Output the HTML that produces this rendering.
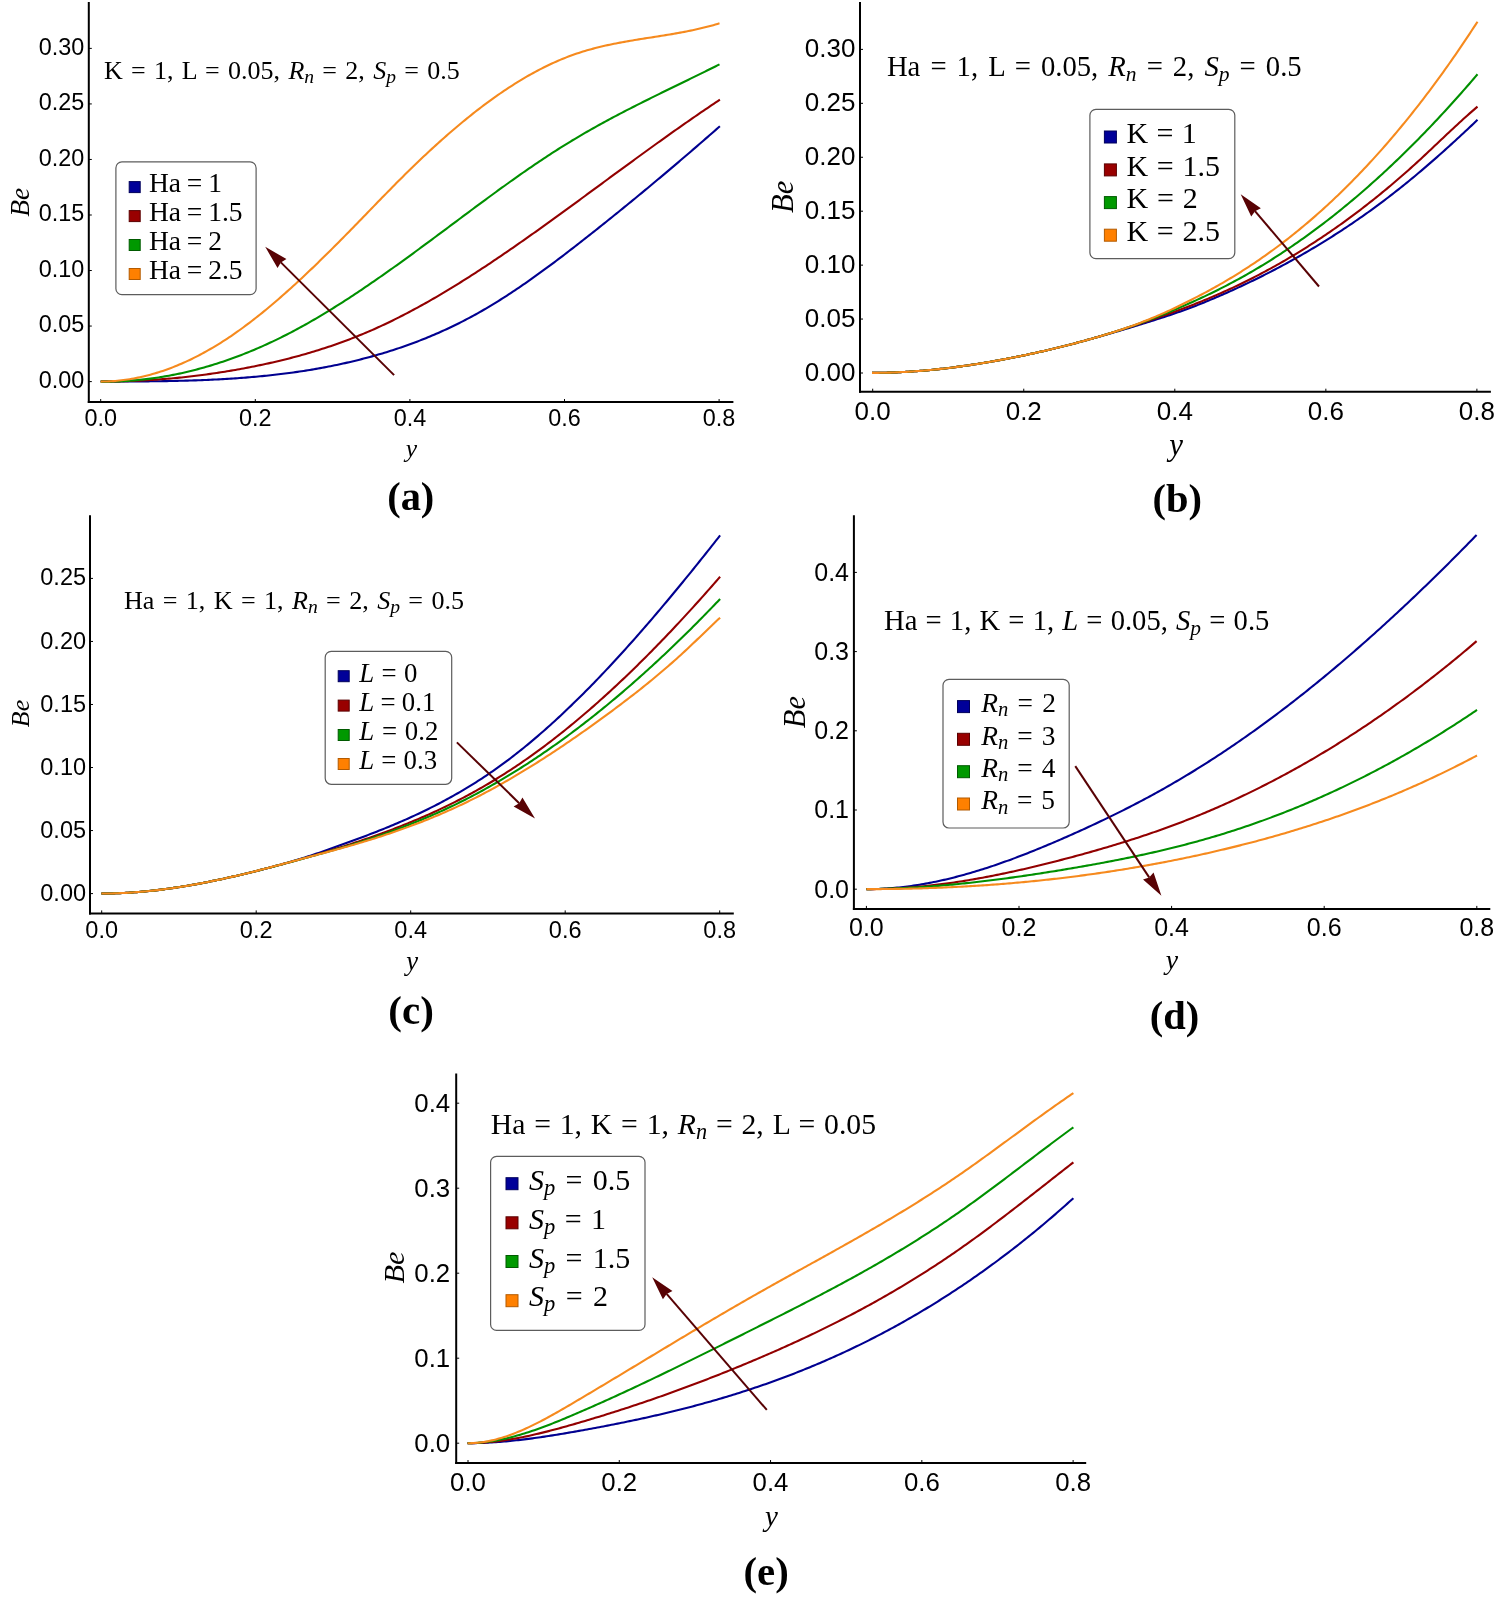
<!DOCTYPE html>
<html><head><meta charset="utf-8"><title>Bejan number profiles</title>
<style>html,body{margin:0;padding:0;background:#fff;overflow:hidden;}svg{display:block;will-change:transform;}</style>
</head><body>
<svg width="1499" height="1598" viewBox="0 0 1499 1598"><rect width="1499" height="1598" fill="#fff"/><g><path d="M100.70,381.55 L102.77,381.55 L104.84,381.54 L106.91,381.54 L108.98,381.53 L111.05,381.53 L113.13,381.52 L115.20,381.52 L117.27,381.51 L119.34,381.50 L121.41,381.50 L123.48,381.49 L125.55,381.48 L127.62,381.47 L129.69,381.46 L131.76,381.45 L133.83,381.44 L135.91,381.43 L137.98,381.41 L140.05,381.40 L142.12,381.38 L144.19,381.37 L146.26,381.35 L148.33,381.33 L150.40,381.31 L152.47,381.28 L154.54,381.26 L156.61,381.23 L158.69,381.21 L160.76,381.18 L162.83,381.14 L164.90,381.11 L166.97,381.08 L169.04,381.04 L171.11,381.00 L173.18,380.96 L175.25,380.91 L177.32,380.87 L179.39,380.82 L181.47,380.77 L183.54,380.71 L185.61,380.66 L187.68,380.60 L189.75,380.54 L191.82,380.47 L193.89,380.40 L195.96,380.33 L198.03,380.26 L200.10,380.18 L202.17,380.10 L204.25,380.02 L206.32,379.93 L208.39,379.85 L210.46,379.75 L212.53,379.66 L214.60,379.56 L216.67,379.45 L218.74,379.35 L220.81,379.23 L222.88,379.12 L224.95,379.00 L227.03,378.88 L229.10,378.75 L231.17,378.62 L233.24,378.48 L235.31,378.35 L237.38,378.20 L239.45,378.05 L241.52,377.90 L243.59,377.74 L245.66,377.58 L247.73,377.42 L249.81,377.25 L251.88,377.07 L253.95,376.89 L256.02,376.70 L258.09,376.51 L260.16,376.32 L262.23,376.12 L264.30,375.91 L266.37,375.70 L268.44,375.48 L270.51,375.26 L272.58,375.04 L274.66,374.80 L276.73,374.56 L278.80,374.32 L280.87,374.07 L282.94,373.81 L285.01,373.55 L287.08,373.29 L289.15,373.01 L291.22,372.73 L293.29,372.45 L295.36,372.16 L297.44,371.86 L299.51,371.55 L301.58,371.24 L303.65,370.92 L305.72,370.60 L307.79,370.27 L309.86,369.93 L311.93,369.59 L314.00,369.24 L316.07,368.88 L318.14,368.52 L320.22,368.14 L322.29,367.77 L324.36,367.38 L326.43,366.99 L328.50,366.59 L330.57,366.18 L332.64,365.76 L334.71,365.34 L336.78,364.91 L338.85,364.47 L340.92,364.03 L343.00,363.57 L345.07,363.11 L347.14,362.64 L349.21,362.16 L351.28,361.68 L353.35,361.19 L355.42,360.68 L357.49,360.17 L359.56,359.66 L361.63,359.13 L363.70,358.60 L365.78,358.05 L367.85,357.50 L369.92,356.94 L371.99,356.37 L374.06,355.79 L376.13,355.20 L378.20,354.61 L380.27,354.00 L382.34,353.39 L384.41,352.76 L386.48,352.13 L388.56,351.49 L390.63,350.83 L392.70,350.17 L394.77,349.50 L396.84,348.82 L398.91,348.12 L400.98,347.42 L403.05,346.71 L405.12,345.99 L407.19,345.25 L409.26,344.51 L411.34,343.75 L413.41,342.99 L415.48,342.21 L417.55,341.42 L419.62,340.62 L421.69,339.81 L423.76,338.99 L425.83,338.16 L427.90,337.32 L429.97,336.46 L432.04,335.59 L434.12,334.71 L436.19,333.82 L438.26,332.92 L440.33,332.00 L442.40,331.07 L444.47,330.13 L446.54,329.18 L448.61,328.21 L450.68,327.24 L452.75,326.25 L454.82,325.24 L456.90,324.23 L458.97,323.20 L461.04,322.15 L463.11,321.10 L465.18,320.03 L467.25,318.94 L469.32,317.85 L471.39,316.74 L473.46,315.61 L475.53,314.47 L477.60,313.32 L479.68,312.15 L481.75,310.97 L483.82,309.78 L485.89,308.57 L487.96,307.35 L490.03,306.11 L492.10,304.86 L494.17,303.60 L496.24,302.33 L498.31,301.04 L500.38,299.74 L502.46,298.43 L504.53,297.10 L506.60,295.77 L508.67,294.42 L510.74,293.06 L512.81,291.69 L514.88,290.31 L516.95,288.92 L519.02,287.52 L521.09,286.11 L523.16,284.69 L525.24,283.26 L527.31,281.81 L529.38,280.36 L531.45,278.90 L533.52,277.43 L535.59,275.96 L537.66,274.47 L539.73,272.97 L541.80,271.47 L543.87,269.96 L545.94,268.44 L548.02,266.92 L550.09,265.38 L552.16,263.84 L554.23,262.29 L556.30,260.74 L558.37,259.18 L560.44,257.61 L562.51,256.04 L564.58,254.46 L566.65,252.87 L568.72,251.28 L570.79,249.69 L572.87,248.09 L574.94,246.48 L577.01,244.88 L579.08,243.26 L581.15,241.64 L583.22,240.02 L585.29,238.40 L587.36,236.77 L589.43,235.13 L591.50,233.50 L593.57,231.86 L595.65,230.22 L597.72,228.57 L599.79,226.92 L601.86,225.27 L603.93,223.62 L606.00,221.96 L608.07,220.30 L610.14,218.64 L612.21,216.97 L614.28,215.30 L616.35,213.63 L618.43,211.96 L620.50,210.28 L622.57,208.60 L624.64,206.91 L626.71,205.23 L628.78,203.54 L630.85,201.84 L632.92,200.15 L634.99,198.45 L637.06,196.75 L639.13,195.04 L641.21,193.33 L643.28,191.62 L645.35,189.91 L647.42,188.19 L649.49,186.47 L651.56,184.75 L653.63,183.02 L655.70,181.29 L657.77,179.56 L659.84,177.83 L661.91,176.09 L663.99,174.35 L666.06,172.60 L668.13,170.86 L670.20,169.11 L672.27,167.35 L674.34,165.60 L676.41,163.84 L678.48,162.08 L680.55,160.31 L682.62,158.55 L684.69,156.78 L686.77,155.00 L688.84,153.23 L690.91,151.45 L692.98,149.66 L695.05,147.88 L697.12,146.09 L699.19,144.30 L701.26,142.51 L703.33,140.71 L705.40,138.91 L707.47,137.11 L709.55,135.30 L711.62,133.49 L713.69,131.68 L715.76,129.87 L717.83,128.05 L719.90,126.23" fill="none" stroke="#000090" stroke-width="2.1" stroke-linejoin="round" stroke-linecap="butt"/><path d="M100.70,381.56 L102.77,381.56 L104.84,381.56 L106.91,381.54 L108.98,381.53 L111.05,381.50 L113.13,381.47 L115.20,381.44 L117.27,381.40 L119.34,381.36 L121.41,381.31 L123.48,381.25 L125.55,381.19 L127.62,381.12 L129.69,381.05 L131.76,380.97 L133.83,380.89 L135.91,380.80 L137.98,380.70 L140.05,380.60 L142.12,380.50 L144.19,380.39 L146.26,380.27 L148.33,380.15 L150.40,380.02 L152.47,379.89 L154.54,379.75 L156.61,379.60 L158.69,379.45 L160.76,379.30 L162.83,379.14 L164.90,378.97 L166.97,378.80 L169.04,378.62 L171.11,378.43 L173.18,378.24 L175.25,378.05 L177.32,377.85 L179.39,377.64 L181.47,377.43 L183.54,377.21 L185.61,376.99 L187.68,376.76 L189.75,376.53 L191.82,376.28 L193.89,376.04 L195.96,375.79 L198.03,375.53 L200.10,375.27 L202.17,375.00 L204.25,374.72 L206.32,374.44 L208.39,374.16 L210.46,373.87 L212.53,373.57 L214.60,373.27 L216.67,372.96 L218.74,372.64 L220.81,372.32 L222.88,372.00 L224.95,371.67 L227.03,371.33 L229.10,370.98 L231.17,370.64 L233.24,370.28 L235.31,369.92 L237.38,369.55 L239.45,369.18 L241.52,368.80 L243.59,368.42 L245.66,368.03 L247.73,367.64 L249.81,367.23 L251.88,366.83 L253.95,366.42 L256.02,366.00 L258.09,365.57 L260.16,365.14 L262.23,364.70 L264.30,364.26 L266.37,363.81 L268.44,363.35 L270.51,362.89 L272.58,362.42 L274.66,361.94 L276.73,361.46 L278.80,360.97 L280.87,360.47 L282.94,359.96 L285.01,359.45 L287.08,358.93 L289.15,358.40 L291.22,357.87 L293.29,357.33 L295.36,356.78 L297.44,356.22 L299.51,355.65 L301.58,355.08 L303.65,354.49 L305.72,353.90 L307.79,353.30 L309.86,352.70 L311.93,352.08 L314.00,351.46 L316.07,350.82 L318.14,350.18 L320.22,349.53 L322.29,348.87 L324.36,348.20 L326.43,347.52 L328.50,346.83 L330.57,346.14 L332.64,345.43 L334.71,344.72 L336.78,343.99 L338.85,343.25 L340.92,342.51 L343.00,341.75 L345.07,340.99 L347.14,340.21 L349.21,339.43 L351.28,338.63 L353.35,337.83 L355.42,337.01 L357.49,336.18 L359.56,335.34 L361.63,334.50 L363.70,333.64 L365.78,332.77 L367.85,331.88 L369.92,330.99 L371.99,330.09 L374.06,329.17 L376.13,328.25 L378.20,327.31 L380.27,326.36 L382.34,325.40 L384.41,324.43 L386.48,323.45 L388.56,322.46 L390.63,321.46 L392.70,320.45 L394.77,319.43 L396.84,318.40 L398.91,317.36 L400.98,316.31 L403.05,315.25 L405.12,314.18 L407.19,313.10 L409.26,312.01 L411.34,310.91 L413.41,309.80 L415.48,308.68 L417.55,307.56 L419.62,306.42 L421.69,305.28 L423.76,304.13 L425.83,302.97 L427.90,301.80 L429.97,300.62 L432.04,299.43 L434.12,298.24 L436.19,297.04 L438.26,295.83 L440.33,294.61 L442.40,293.38 L444.47,292.15 L446.54,290.91 L448.61,289.66 L450.68,288.40 L452.75,287.14 L454.82,285.87 L456.90,284.59 L458.97,283.30 L461.04,282.01 L463.11,280.71 L465.18,279.41 L467.25,278.09 L469.32,276.78 L471.39,275.45 L473.46,274.12 L475.53,272.78 L477.60,271.44 L479.68,270.09 L481.75,268.74 L483.82,267.38 L485.89,266.01 L487.96,264.64 L490.03,263.26 L492.10,261.88 L494.17,260.49 L496.24,259.09 L498.31,257.70 L500.38,256.29 L502.46,254.88 L504.53,253.47 L506.60,252.05 L508.67,250.63 L510.74,249.20 L512.81,247.77 L514.88,246.34 L516.95,244.90 L519.02,243.45 L521.09,242.01 L523.16,240.56 L525.24,239.10 L527.31,237.64 L529.38,236.18 L531.45,234.71 L533.52,233.24 L535.59,231.77 L537.66,230.30 L539.73,228.82 L541.80,227.34 L543.87,225.85 L545.94,224.37 L548.02,222.88 L550.09,221.38 L552.16,219.89 L554.23,218.39 L556.30,216.89 L558.37,215.39 L560.44,213.89 L562.51,212.38 L564.58,210.88 L566.65,209.37 L568.72,207.86 L570.79,206.35 L572.87,204.83 L574.94,203.32 L577.01,201.80 L579.08,200.29 L581.15,198.77 L583.22,197.25 L585.29,195.73 L587.36,194.21 L589.43,192.69 L591.50,191.17 L593.57,189.65 L595.65,188.12 L597.72,186.60 L599.79,185.08 L601.86,183.56 L603.93,182.03 L606.00,180.51 L608.07,178.99 L610.14,177.47 L612.21,175.95 L614.28,174.43 L616.35,172.91 L618.43,171.39 L620.50,169.87 L622.57,168.35 L624.64,166.83 L626.71,165.32 L628.78,163.80 L630.85,162.29 L632.92,160.78 L634.99,159.27 L637.06,157.76 L639.13,156.25 L641.21,154.75 L643.28,153.24 L645.35,151.74 L647.42,150.24 L649.49,148.74 L651.56,147.25 L653.63,145.75 L655.70,144.26 L657.77,142.77 L659.84,141.29 L661.91,139.81 L663.99,138.32 L666.06,136.85 L668.13,135.37 L670.20,133.90 L672.27,132.43 L674.34,130.97 L676.41,129.50 L678.48,128.04 L680.55,126.59 L682.62,125.14 L684.69,123.69 L686.77,122.24 L688.84,120.80 L690.91,119.37 L692.98,117.93 L695.05,116.50 L697.12,115.08 L699.19,113.66 L701.26,112.24 L703.33,110.83 L705.40,109.43 L707.47,108.02 L709.55,106.63 L711.62,105.23 L713.69,103.85 L715.76,102.46 L717.83,101.09 L719.90,99.71" fill="none" stroke="#920000" stroke-width="2.1" stroke-linejoin="round" stroke-linecap="butt"/><path d="M100.70,381.63 L102.77,381.64 L104.84,381.65 L106.91,381.64 L108.98,381.62 L111.05,381.58 L113.12,381.54 L115.19,381.48 L117.26,381.41 L119.33,381.33 L121.40,381.23 L123.47,381.13 L125.53,381.01 L127.60,380.87 L129.67,380.73 L131.74,380.57 L133.81,380.40 L135.88,380.22 L137.95,380.03 L140.02,379.82 L142.09,379.61 L144.16,379.38 L146.23,379.13 L148.30,378.88 L150.37,378.61 L152.44,378.34 L154.51,378.04 L156.58,377.74 L158.65,377.43 L160.72,377.10 L162.79,376.76 L164.86,376.41 L166.93,376.04 L169.00,375.67 L171.07,375.28 L173.13,374.88 L175.20,374.47 L177.27,374.04 L179.34,373.61 L181.41,373.16 L183.48,372.70 L185.55,372.22 L187.62,371.74 L189.69,371.24 L191.76,370.73 L193.83,370.21 L195.90,369.68 L197.97,369.14 L200.04,368.58 L202.11,368.01 L204.18,367.43 L206.25,366.84 L208.32,366.23 L210.39,365.62 L212.46,364.99 L214.53,364.35 L216.60,363.69 L218.67,363.03 L220.73,362.35 L222.80,361.67 L224.87,360.97 L226.94,360.25 L229.01,359.53 L231.08,358.79 L233.15,358.05 L235.22,357.29 L237.29,356.51 L239.36,355.73 L241.43,354.94 L243.50,354.13 L245.57,353.31 L247.64,352.48 L249.71,351.64 L251.78,350.78 L253.85,349.92 L255.92,349.04 L257.99,348.15 L260.06,347.25 L262.13,346.34 L264.20,345.41 L266.27,344.48 L268.33,343.53 L270.40,342.57 L272.47,341.60 L274.54,340.61 L276.61,339.62 L278.68,338.61 L280.75,337.59 L282.82,336.56 L284.89,335.52 L286.96,334.47 L289.03,333.40 L291.10,332.32 L293.17,331.24 L295.24,330.14 L297.31,329.02 L299.38,327.90 L301.45,326.77 L303.52,325.63 L305.59,324.47 L307.66,323.31 L309.73,322.13 L311.80,320.94 L313.87,319.75 L315.93,318.54 L318.00,317.33 L320.07,316.10 L322.14,314.87 L324.21,313.62 L326.28,312.37 L328.35,311.10 L330.42,309.83 L332.49,308.55 L334.56,307.26 L336.63,305.97 L338.70,304.66 L340.77,303.35 L342.84,302.02 L344.91,300.69 L346.98,299.35 L349.05,298.01 L351.12,296.66 L353.19,295.29 L355.26,293.93 L357.33,292.55 L359.40,291.17 L361.47,289.78 L363.53,288.39 L365.60,286.98 L367.67,285.58 L369.74,284.16 L371.81,282.74 L373.88,281.31 L375.95,279.88 L378.02,278.44 L380.09,277.00 L382.16,275.55 L384.23,274.10 L386.30,272.64 L388.37,271.18 L390.44,269.71 L392.51,268.24 L394.58,266.76 L396.65,265.28 L398.72,263.79 L400.79,262.30 L402.86,260.81 L404.93,259.31 L407.00,257.81 L409.07,256.30 L411.13,254.79 L413.20,253.28 L415.27,251.77 L417.34,250.25 L419.41,248.73 L421.48,247.21 L423.55,245.68 L425.62,244.16 L427.69,242.63 L429.76,241.10 L431.83,239.56 L433.90,238.03 L435.97,236.49 L438.04,234.95 L440.11,233.42 L442.18,231.87 L444.25,230.33 L446.32,228.79 L448.39,227.25 L450.46,225.71 L452.53,224.16 L454.60,222.62 L456.67,221.07 L458.73,219.53 L460.80,217.99 L462.87,216.44 L464.94,214.90 L467.01,213.36 L469.08,211.82 L471.15,210.28 L473.22,208.74 L475.29,207.21 L477.36,205.67 L479.43,204.14 L481.50,202.61 L483.57,201.08 L485.64,199.56 L487.71,198.03 L489.78,196.52 L491.85,195.00 L493.92,193.49 L495.99,191.98 L498.06,190.47 L500.13,188.97 L502.20,187.47 L504.27,185.98 L506.33,184.49 L508.40,183.00 L510.47,181.52 L512.54,180.05 L514.61,178.58 L516.68,177.12 L518.75,175.66 L520.82,174.20 L522.89,172.76 L524.96,171.32 L527.03,169.88 L529.10,168.45 L531.17,167.03 L533.24,165.62 L535.31,164.21 L537.38,162.81 L539.45,161.41 L541.52,160.03 L543.59,158.65 L545.66,157.28 L547.73,155.92 L549.80,154.56 L551.87,153.22 L553.93,151.88 L556.00,150.56 L558.07,149.24 L560.14,147.93 L562.21,146.63 L564.28,145.34 L566.35,144.06 L568.42,142.79 L570.49,141.53 L572.56,140.27 L574.63,139.03 L576.70,137.80 L578.77,136.57 L580.84,135.36 L582.91,134.15 L584.98,132.95 L587.05,131.76 L589.12,130.58 L591.19,129.40 L593.26,128.23 L595.33,127.07 L597.40,125.92 L599.47,124.77 L601.53,123.64 L603.60,122.50 L605.67,121.38 L607.74,120.26 L609.81,119.15 L611.88,118.04 L613.95,116.94 L616.02,115.84 L618.09,114.75 L620.16,113.67 L622.23,112.59 L624.30,111.51 L626.37,110.44 L628.44,109.38 L630.51,108.32 L632.58,107.26 L634.65,106.21 L636.72,105.16 L638.79,104.11 L640.86,103.07 L642.93,102.03 L645.00,101.00 L647.07,99.97 L649.13,98.94 L651.20,97.91 L653.27,96.89 L655.34,95.87 L657.41,94.85 L659.48,93.83 L661.55,92.81 L663.62,91.80 L665.69,90.79 L667.76,89.78 L669.83,88.77 L671.90,87.76 L673.97,86.75 L676.04,85.74 L678.11,84.73 L680.18,83.72 L682.25,82.71 L684.32,81.71 L686.39,80.70 L688.46,79.69 L690.53,78.68 L692.60,77.67 L694.67,76.66 L696.73,75.64 L698.80,74.63 L700.87,73.61 L702.94,72.60 L705.01,71.58 L707.08,70.55 L709.15,69.53 L711.22,68.50 L713.29,67.47 L715.36,66.44 L717.43,65.41 L719.50,64.37" fill="none" stroke="#009000" stroke-width="2.1" stroke-linejoin="round" stroke-linecap="butt"/><path d="M100.70,381.59 L102.77,381.57 L104.84,381.52 L106.91,381.46 L108.98,381.37 L111.05,381.25 L113.12,381.12 L115.19,380.96 L117.26,380.77 L119.33,380.56 L121.40,380.33 L123.47,380.08 L125.53,379.80 L127.60,379.50 L129.67,379.17 L131.74,378.83 L133.81,378.46 L135.88,378.06 L137.95,377.65 L140.02,377.21 L142.09,376.74 L144.16,376.26 L146.23,375.75 L148.30,375.22 L150.37,374.67 L152.44,374.09 L154.51,373.50 L156.58,372.88 L158.65,372.23 L160.72,371.57 L162.79,370.88 L164.86,370.17 L166.93,369.44 L169.00,368.68 L171.07,367.91 L173.13,367.11 L175.20,366.29 L177.27,365.45 L179.34,364.58 L181.41,363.70 L183.48,362.79 L185.55,361.86 L187.62,360.91 L189.69,359.93 L191.76,358.94 L193.83,357.92 L195.90,356.89 L197.97,355.83 L200.04,354.75 L202.11,353.65 L204.18,352.52 L206.25,351.38 L208.32,350.21 L210.39,349.03 L212.46,347.82 L214.53,346.59 L216.60,345.34 L218.67,344.07 L220.73,342.78 L222.80,341.47 L224.87,340.14 L226.94,338.78 L229.01,337.41 L231.08,336.02 L233.15,334.60 L235.22,333.17 L237.29,331.71 L239.36,330.24 L241.43,328.75 L243.50,327.24 L245.57,325.71 L247.64,324.16 L249.71,322.60 L251.78,321.01 L253.85,319.41 L255.92,317.79 L257.99,316.16 L260.06,314.51 L262.13,312.84 L264.20,311.16 L266.27,309.46 L268.33,307.74 L270.40,306.01 L272.47,304.27 L274.54,302.51 L276.61,300.73 L278.68,298.94 L280.75,297.14 L282.82,295.33 L284.89,293.50 L286.96,291.65 L289.03,289.80 L291.10,287.93 L293.17,286.05 L295.24,284.16 L297.31,282.26 L299.38,280.34 L301.45,278.41 L303.52,276.48 L305.59,274.53 L307.66,272.57 L309.73,270.60 L311.80,268.63 L313.87,266.64 L315.93,264.64 L318.00,262.64 L320.07,260.62 L322.14,258.60 L324.21,256.57 L326.28,254.53 L328.35,252.48 L330.42,250.43 L332.49,248.37 L334.56,246.30 L336.63,244.22 L338.70,242.14 L340.77,240.06 L342.84,237.97 L344.91,235.87 L346.98,233.76 L349.05,231.66 L351.12,229.54 L353.19,227.43 L355.26,225.31 L357.33,223.18 L359.40,221.05 L361.47,218.92 L363.53,216.79 L365.60,214.66 L367.67,212.52 L369.74,210.39 L371.81,208.25 L373.88,206.12 L375.95,203.99 L378.02,201.85 L380.09,199.73 L382.16,197.60 L384.23,195.48 L386.30,193.36 L388.37,191.25 L390.44,189.14 L392.51,187.04 L394.58,184.95 L396.65,182.86 L398.72,180.78 L400.79,178.71 L402.86,176.65 L404.93,174.60 L407.00,172.56 L409.07,170.52 L411.13,168.50 L413.20,166.49 L415.27,164.49 L417.34,162.50 L419.41,160.52 L421.48,158.56 L423.55,156.60 L425.62,154.65 L427.69,152.72 L429.76,150.80 L431.83,148.89 L433.90,146.99 L435.97,145.11 L438.04,143.23 L440.11,141.37 L442.18,139.52 L444.25,137.69 L446.32,135.87 L448.39,134.06 L450.46,132.26 L452.53,130.48 L454.60,128.71 L456.67,126.95 L458.73,125.21 L460.80,123.48 L462.87,121.77 L464.94,120.07 L467.01,118.39 L469.08,116.72 L471.15,115.06 L473.22,113.42 L475.29,111.79 L477.36,110.18 L479.43,108.59 L481.50,107.01 L483.57,105.44 L485.64,103.89 L487.71,102.36 L489.78,100.84 L491.85,99.34 L493.92,97.86 L495.99,96.39 L498.06,94.94 L500.13,93.51 L502.20,92.09 L504.27,90.69 L506.33,89.31 L508.40,87.94 L510.47,86.59 L512.54,85.26 L514.61,83.95 L516.68,82.65 L518.75,81.38 L520.82,80.12 L522.89,78.88 L524.96,77.66 L527.03,76.46 L529.10,75.27 L531.17,74.11 L533.24,72.96 L535.31,71.84 L537.38,70.73 L539.45,69.64 L541.52,68.58 L543.59,67.53 L545.66,66.50 L547.73,65.49 L549.80,64.51 L551.87,63.54 L553.93,62.60 L556.00,61.67 L558.07,60.77 L560.14,59.88 L562.21,59.02 L564.28,58.18 L566.35,57.36 L568.42,56.57 L570.49,55.79 L572.56,55.04 L574.63,54.31 L576.70,53.60 L578.77,52.91 L580.84,52.24 L582.91,51.59 L584.98,50.96 L587.05,50.35 L589.12,49.76 L591.19,49.18 L593.26,48.62 L595.33,48.08 L597.40,47.55 L599.47,47.04 L601.53,46.54 L603.60,46.06 L605.67,45.59 L607.74,45.13 L609.81,44.69 L611.88,44.25 L613.95,43.83 L616.02,43.42 L618.09,43.01 L620.16,42.62 L622.23,42.23 L624.30,41.86 L626.37,41.49 L628.44,41.12 L630.51,40.77 L632.58,40.42 L634.65,40.07 L636.72,39.73 L638.79,39.40 L640.86,39.06 L642.93,38.73 L645.00,38.41 L647.07,38.08 L649.13,37.76 L651.20,37.43 L653.27,37.11 L655.34,36.78 L657.41,36.46 L659.48,36.13 L661.55,35.80 L663.62,35.47 L665.69,35.13 L667.76,34.79 L669.83,34.45 L671.90,34.10 L673.97,33.75 L676.04,33.38 L678.11,33.02 L680.18,32.64 L682.25,32.26 L684.32,31.86 L686.39,31.46 L688.46,31.05 L690.53,30.63 L692.60,30.20 L694.67,29.75 L696.73,29.30 L698.80,28.83 L700.87,28.34 L702.94,27.85 L705.01,27.34 L707.08,26.81 L709.15,26.27 L711.22,25.71 L713.29,25.14 L715.36,24.55 L717.43,23.94 L719.50,23.31" fill="none" stroke="#f68a1e" stroke-width="2.1" stroke-linejoin="round" stroke-linecap="butt"/><line x1="88.8" y1="2" x2="88.8" y2="403" stroke="#000" stroke-width="2"/><line x1="87.8" y1="402" x2="733.4" y2="402" stroke="#000" stroke-width="2"/><line x1="88.8" y1="381.60" x2="91.8" y2="381.60" stroke="#000" stroke-width="1"/><line x1="88.8" y1="326.06" x2="91.8" y2="326.06" stroke="#000" stroke-width="1"/><line x1="88.8" y1="270.53" x2="91.8" y2="270.53" stroke="#000" stroke-width="1"/><line x1="88.8" y1="215.00" x2="91.8" y2="215.00" stroke="#000" stroke-width="1"/><line x1="88.8" y1="159.46" x2="91.8" y2="159.46" stroke="#000" stroke-width="1"/><line x1="88.8" y1="103.93" x2="91.8" y2="103.93" stroke="#000" stroke-width="1"/><line x1="88.8" y1="48.39" x2="91.8" y2="48.39" stroke="#000" stroke-width="1"/><line x1="100.70" y1="402" x2="100.70" y2="399" stroke="#000" stroke-width="1"/><line x1="255.30" y1="402" x2="255.30" y2="399" stroke="#000" stroke-width="1"/><line x1="409.90" y1="402" x2="409.90" y2="399" stroke="#000" stroke-width="1"/><line x1="564.50" y1="402" x2="564.50" y2="399" stroke="#000" stroke-width="1"/><line x1="719.10" y1="402" x2="719.10" y2="399" stroke="#000" stroke-width="1"/><text x="84.34" y="388.02" font-family='"Liberation Sans", sans-serif' font-size="23.4" text-anchor="end">0.00</text><text x="84.34" y="332.49" font-family='"Liberation Sans", sans-serif' font-size="23.4" text-anchor="end">0.05</text><text x="84.34" y="276.95" font-family='"Liberation Sans", sans-serif' font-size="23.4" text-anchor="end">0.10</text><text x="84.34" y="221.42" font-family='"Liberation Sans", sans-serif' font-size="23.4" text-anchor="end">0.15</text><text x="84.34" y="165.88" font-family='"Liberation Sans", sans-serif' font-size="23.4" text-anchor="end">0.20</text><text x="84.34" y="110.35" font-family='"Liberation Sans", sans-serif' font-size="23.4" text-anchor="end">0.25</text><text x="84.34" y="54.81" font-family='"Liberation Sans", sans-serif' font-size="23.4" text-anchor="end">0.30</text><text x="100.70" y="426" font-family='"Liberation Sans", sans-serif' font-size="23.4" text-anchor="middle">0.0</text><text x="255.30" y="426" font-family='"Liberation Sans", sans-serif' font-size="23.4" text-anchor="middle">0.2</text><text x="409.90" y="426" font-family='"Liberation Sans", sans-serif' font-size="23.4" text-anchor="middle">0.4</text><text x="564.50" y="426" font-family='"Liberation Sans", sans-serif' font-size="23.4" text-anchor="middle">0.6</text><text x="719.10" y="426" font-family='"Liberation Sans", sans-serif' font-size="23.4" text-anchor="middle">0.8</text><text x="104.00" y="78.7" font-family='"Liberation Serif", serif' font-size="26" style="word-spacing:1.81px"><tspan>K = 1, L = 0.05, </tspan><tspan font-style="italic">R</tspan><tspan font-style="italic" font-size="19.50" dy="4.42">n</tspan><tspan dy="-4.42"> = 2, </tspan><tspan font-style="italic">S</tspan><tspan font-style="italic" font-size="19.50" dy="4.42">p</tspan><tspan dy="-4.42"> = 0.5</tspan></text><rect x="115.9" y="161.9" width="140.20" height="132.80" rx="6" fill="#fff" stroke="#5c5c5c" stroke-width="1.2"/><rect x="129.2" y="181.6" width="11" height="11" fill="#000099" stroke="#00005a" stroke-width="1"/><text x="149.00" y="192.2" font-family='"Liberation Serif", serif' font-size="27.5" style="word-spacing:-1.10px"><tspan>Ha</tspan><tspan> = 1</tspan></text><rect x="129.2" y="210.6" width="11" height="11" fill="#990000" stroke="#5a0000" stroke-width="1"/><text x="149.00" y="221.1" font-family='"Liberation Serif", serif' font-size="27.5" style="word-spacing:-1.10px"><tspan>Ha</tspan><tspan> = 1.5</tspan></text><rect x="129.2" y="239.5" width="11" height="11" fill="#009900" stroke="#005a00" stroke-width="1"/><text x="149.00" y="250" font-family='"Liberation Serif", serif' font-size="27.5" style="word-spacing:-1.10px"><tspan>Ha</tspan><tspan> = 2</tspan></text><rect x="129.2" y="268.5" width="11" height="11" fill="#ff8000" stroke="#b35a00" stroke-width="1"/><text x="149.00" y="278.9" font-family='"Liberation Serif", serif' font-size="27.5" style="word-spacing:-1.10px"><tspan>Ha</tspan><tspan> = 2.5</tspan></text><line x1="394.1" y1="375.1" x2="280.86" y2="262.39" stroke="#580204" stroke-width="2"/><path d="M265.2,246.8 L286.44,259.05 L280.86,262.39 L277.55,267.98 Z" fill="#580204"/><text x="411.50" y="457.19" font-family='"Liberation Serif", serif' font-size="25.54" font-style="italic" text-anchor="middle">y</text><text transform="translate(29.40,202.20) rotate(-90)" font-family='"Liberation Serif", serif' font-size="27.48" font-style="italic" text-anchor="middle">Be</text><text x="410.75" y="509.71" font-family='"Liberation Serif", serif' font-size="40.46" font-weight="bold" text-anchor="middle">(a)</text></g><g><path d="M872.00,372.85 L874.03,372.85 L876.05,372.84 L878.08,372.83 L880.10,372.80 L882.13,372.77 L884.15,372.74 L886.18,372.69 L888.20,372.64 L890.23,372.58 L892.25,372.51 L894.28,372.44 L896.30,372.36 L898.33,372.27 L900.35,372.17 L902.38,372.07 L904.40,371.96 L906.43,371.85 L908.45,371.72 L910.48,371.59 L912.50,371.46 L914.53,371.32 L916.55,371.17 L918.58,371.01 L920.60,370.85 L922.63,370.68 L924.65,370.51 L926.68,370.33 L928.70,370.14 L930.73,369.95 L932.75,369.75 L934.78,369.55 L936.80,369.34 L938.83,369.12 L940.85,368.90 L942.88,368.67 L944.90,368.43 L946.93,368.20 L948.95,367.95 L950.98,367.70 L953.00,367.44 L955.03,367.18 L957.05,366.91 L959.08,366.64 L961.10,366.36 L963.13,366.08 L965.15,365.79 L967.18,365.50 L969.20,365.20 L971.23,364.89 L973.25,364.58 L975.28,364.27 L977.30,363.95 L979.33,363.63 L981.35,363.30 L983.38,362.96 L985.40,362.63 L987.43,362.28 L989.45,361.94 L991.48,361.59 L993.51,361.23 L995.53,360.87 L997.56,360.50 L999.58,360.13 L1001.61,359.76 L1003.63,359.38 L1005.66,359.00 L1007.68,358.61 L1009.71,358.22 L1011.73,357.83 L1013.76,357.43 L1015.78,357.02 L1017.81,356.62 L1019.83,356.20 L1021.86,355.79 L1023.88,355.37 L1025.91,354.94 L1027.93,354.51 L1029.96,354.08 L1031.98,353.64 L1034.01,353.20 L1036.03,352.75 L1038.06,352.30 L1040.08,351.84 L1042.11,351.38 L1044.13,350.92 L1046.16,350.45 L1048.18,349.97 L1050.21,349.49 L1052.23,349.01 L1054.26,348.53 L1056.28,348.03 L1058.31,347.54 L1060.33,347.04 L1062.36,346.53 L1064.38,346.02 L1066.41,345.51 L1068.43,344.99 L1070.46,344.47 L1072.48,343.94 L1074.51,343.41 L1076.53,342.87 L1078.56,342.33 L1080.58,341.78 L1082.61,341.23 L1084.63,340.68 L1086.66,340.12 L1088.68,339.56 L1090.71,339.00 L1092.73,338.43 L1094.76,337.86 L1096.78,337.29 L1098.81,336.72 L1100.83,336.14 L1102.86,335.57 L1104.88,334.99 L1106.91,334.40 L1108.93,333.82 L1110.96,333.23 L1112.98,332.65 L1115.01,332.05 L1117.04,331.46 L1119.06,330.87 L1121.09,330.27 L1123.11,329.67 L1125.14,329.07 L1127.16,328.47 L1129.19,327.87 L1131.21,327.26 L1133.24,326.65 L1135.26,326.04 L1137.29,325.42 L1139.31,324.80 L1141.34,324.18 L1143.36,323.56 L1145.39,322.94 L1147.41,322.31 L1149.44,321.67 L1151.46,321.04 L1153.49,320.40 L1155.51,319.76 L1157.54,319.11 L1159.56,318.46 L1161.59,317.80 L1163.61,317.14 L1165.64,316.47 L1167.66,315.80 L1169.69,315.13 L1171.71,314.44 L1173.74,313.75 L1175.76,313.06 L1177.79,312.36 L1179.81,311.65 L1181.84,310.93 L1183.86,310.21 L1185.89,309.47 L1187.91,308.73 L1189.94,307.98 L1191.96,307.22 L1193.99,306.44 L1196.01,305.66 L1198.04,304.86 L1200.06,304.05 L1202.09,303.24 L1204.11,302.41 L1206.14,301.58 L1208.16,300.74 L1210.19,299.90 L1212.21,299.05 L1214.24,298.19 L1216.26,297.33 L1218.29,296.46 L1220.31,295.58 L1222.34,294.70 L1224.36,293.81 L1226.39,292.92 L1228.41,292.02 L1230.44,291.11 L1232.46,290.19 L1234.49,289.27 L1236.52,288.34 L1238.54,287.41 L1240.57,286.47 L1242.59,285.52 L1244.62,284.57 L1246.64,283.61 L1248.67,282.64 L1250.69,281.67 L1252.72,280.69 L1254.74,279.71 L1256.77,278.71 L1258.79,277.71 L1260.82,276.71 L1262.84,275.69 L1264.87,274.68 L1266.89,273.65 L1268.92,272.61 L1270.94,271.57 L1272.97,270.53 L1274.99,269.47 L1277.02,268.41 L1279.04,267.34 L1281.07,266.26 L1283.09,265.18 L1285.12,264.09 L1287.14,262.99 L1289.17,261.88 L1291.19,260.77 L1293.22,259.64 L1295.24,258.52 L1297.27,257.38 L1299.29,256.23 L1301.32,255.08 L1303.34,253.92 L1305.37,252.75 L1307.39,251.57 L1309.42,250.39 L1311.44,249.19 L1313.47,247.99 L1315.49,246.78 L1317.52,245.56 L1319.54,244.34 L1321.57,243.10 L1323.59,241.86 L1325.62,240.61 L1327.64,239.35 L1329.67,238.08 L1331.69,236.80 L1333.72,235.51 L1335.74,234.22 L1337.77,232.91 L1339.79,231.60 L1341.82,230.27 L1343.84,228.94 L1345.87,227.60 L1347.89,226.25 L1349.92,224.89 L1351.94,223.52 L1353.97,222.15 L1355.99,220.76 L1358.02,219.36 L1360.05,217.96 L1362.07,216.54 L1364.10,215.11 L1366.12,213.68 L1368.15,212.23 L1370.17,210.78 L1372.20,209.32 L1374.22,207.84 L1376.25,206.36 L1378.27,204.86 L1380.30,203.36 L1382.32,201.84 L1384.35,200.32 L1386.37,198.78 L1388.40,197.24 L1390.42,195.68 L1392.45,194.12 L1394.47,192.54 L1396.50,190.95 L1398.52,189.36 L1400.55,187.75 L1402.57,186.13 L1404.60,184.50 L1406.62,182.86 L1408.65,181.21 L1410.67,179.55 L1412.70,177.88 L1414.72,176.20 L1416.75,174.51 L1418.77,172.81 L1420.80,171.10 L1422.82,169.38 L1424.85,167.65 L1426.87,165.92 L1428.90,164.17 L1430.92,162.41 L1432.95,160.65 L1434.97,158.88 L1437.00,157.10 L1439.02,155.31 L1441.05,153.51 L1443.07,151.70 L1445.10,149.89 L1447.12,148.07 L1449.15,146.23 L1451.17,144.40 L1453.20,142.55 L1455.22,140.70 L1457.25,138.84 L1459.27,136.97 L1461.30,135.10 L1463.32,133.21 L1465.35,131.33 L1467.37,129.43 L1469.40,127.53 L1471.42,125.62 L1473.45,123.70 L1475.47,121.78 L1477.50,119.86" fill="none" stroke="#000090" stroke-width="2.1" stroke-linejoin="round" stroke-linecap="butt"/><path d="M872.00,372.85 L874.03,372.85 L876.05,372.84 L878.08,372.83 L880.10,372.80 L882.13,372.77 L884.15,372.74 L886.18,372.69 L888.20,372.64 L890.23,372.58 L892.25,372.51 L894.28,372.44 L896.30,372.36 L898.33,372.27 L900.35,372.17 L902.38,372.07 L904.40,371.96 L906.43,371.85 L908.45,371.72 L910.48,371.59 L912.50,371.46 L914.53,371.32 L916.55,371.17 L918.58,371.01 L920.60,370.85 L922.63,370.68 L924.65,370.51 L926.68,370.33 L928.70,370.14 L930.73,369.95 L932.75,369.75 L934.78,369.55 L936.80,369.34 L938.83,369.12 L940.85,368.90 L942.88,368.67 L944.90,368.43 L946.93,368.20 L948.95,367.95 L950.98,367.70 L953.00,367.44 L955.03,367.18 L957.05,366.91 L959.08,366.64 L961.10,366.36 L963.13,366.08 L965.15,365.79 L967.18,365.50 L969.20,365.20 L971.23,364.89 L973.25,364.58 L975.28,364.27 L977.30,363.95 L979.33,363.63 L981.35,363.30 L983.38,362.96 L985.40,362.63 L987.43,362.28 L989.45,361.94 L991.48,361.59 L993.51,361.23 L995.53,360.87 L997.56,360.50 L999.58,360.13 L1001.61,359.76 L1003.63,359.38 L1005.66,359.00 L1007.68,358.61 L1009.71,358.22 L1011.73,357.83 L1013.76,357.43 L1015.78,357.02 L1017.81,356.62 L1019.83,356.20 L1021.86,355.79 L1023.88,355.37 L1025.91,354.94 L1027.93,354.51 L1029.96,354.08 L1031.98,353.64 L1034.01,353.20 L1036.03,352.75 L1038.06,352.30 L1040.08,351.84 L1042.11,351.38 L1044.13,350.92 L1046.16,350.45 L1048.18,349.97 L1050.21,349.49 L1052.23,349.01 L1054.26,348.53 L1056.28,348.03 L1058.31,347.54 L1060.33,347.04 L1062.36,346.53 L1064.38,346.02 L1066.41,345.51 L1068.43,344.99 L1070.46,344.47 L1072.48,343.94 L1074.51,343.41 L1076.53,342.87 L1078.56,342.33 L1080.58,341.78 L1082.61,341.23 L1084.63,340.67 L1086.66,340.11 L1088.68,339.54 L1090.71,338.97 L1092.73,338.39 L1094.76,337.81 L1096.78,337.22 L1098.81,336.63 L1100.83,336.03 L1102.86,335.43 L1104.88,334.82 L1106.91,334.21 L1108.93,333.60 L1110.96,332.98 L1112.98,332.35 L1115.01,331.72 L1117.04,331.09 L1119.06,330.45 L1121.09,329.81 L1123.11,329.17 L1125.14,328.52 L1127.16,327.87 L1129.19,327.22 L1131.21,326.56 L1133.24,325.90 L1135.26,325.23 L1137.29,324.56 L1139.31,323.89 L1141.34,323.22 L1143.36,322.54 L1145.39,321.86 L1147.41,321.18 L1149.44,320.49 L1151.46,319.81 L1153.49,319.11 L1155.51,318.42 L1157.54,317.72 L1159.56,317.02 L1161.59,316.31 L1163.61,315.60 L1165.64,314.89 L1167.66,314.18 L1169.69,313.46 L1171.71,312.73 L1173.74,312.00 L1175.76,311.27 L1177.79,310.53 L1179.81,309.79 L1181.84,309.04 L1183.86,308.28 L1185.89,307.52 L1187.91,306.75 L1189.94,305.97 L1191.96,305.19 L1193.99,304.40 L1196.01,303.60 L1198.04,302.79 L1200.06,301.97 L1202.09,301.14 L1204.11,300.31 L1206.14,299.46 L1208.16,298.61 L1210.19,297.76 L1212.21,296.89 L1214.24,296.02 L1216.26,295.14 L1218.29,294.26 L1220.31,293.36 L1222.34,292.46 L1224.36,291.55 L1226.39,290.64 L1228.41,289.71 L1230.44,288.78 L1232.46,287.84 L1234.49,286.89 L1236.52,285.93 L1238.54,284.96 L1240.57,283.99 L1242.59,283.01 L1244.62,282.01 L1246.64,281.01 L1248.67,280.01 L1250.69,278.99 L1252.72,277.96 L1254.74,276.92 L1256.77,275.88 L1258.79,274.83 L1260.82,273.76 L1262.84,272.69 L1264.87,271.61 L1266.89,270.52 L1268.92,269.42 L1270.94,268.31 L1272.97,267.20 L1274.99,266.07 L1277.02,264.93 L1279.04,263.79 L1281.07,262.63 L1283.09,261.47 L1285.12,260.30 L1287.14,259.12 L1289.17,257.92 L1291.19,256.72 L1293.22,255.51 L1295.24,254.29 L1297.27,253.06 L1299.29,251.82 L1301.32,250.57 L1303.34,249.31 L1305.37,248.05 L1307.39,246.77 L1309.42,245.48 L1311.44,244.18 L1313.47,242.88 L1315.49,241.56 L1317.52,240.23 L1319.54,238.90 L1321.57,237.55 L1323.59,236.19 L1325.62,234.83 L1327.64,233.45 L1329.67,232.06 L1331.69,230.67 L1333.72,229.26 L1335.74,227.85 L1337.77,226.42 L1339.79,224.98 L1341.82,223.54 L1343.84,222.08 L1345.87,220.61 L1347.89,219.14 L1349.92,217.65 L1351.94,216.15 L1353.97,214.64 L1355.99,213.12 L1358.02,211.59 L1360.05,210.06 L1362.07,208.51 L1364.10,206.95 L1366.12,205.37 L1368.15,203.79 L1370.17,202.20 L1372.20,200.60 L1374.22,198.99 L1376.25,197.36 L1378.27,195.73 L1380.30,194.08 L1382.32,192.43 L1384.35,190.76 L1386.37,189.08 L1388.40,187.40 L1390.42,185.70 L1392.45,183.99 L1394.47,182.27 L1396.50,180.54 L1398.52,178.79 L1400.55,177.04 L1402.57,175.28 L1404.60,173.50 L1406.62,171.71 L1408.65,169.92 L1410.67,168.11 L1412.70,166.29 L1414.72,164.46 L1416.75,162.61 L1418.77,160.76 L1420.80,158.90 L1422.82,157.02 L1424.85,155.14 L1426.87,153.24 L1428.90,151.34 L1430.92,149.44 L1432.95,147.52 L1434.97,145.61 L1437.00,143.69 L1439.02,141.78 L1441.05,139.86 L1443.07,137.94 L1445.10,136.02 L1447.12,134.11 L1449.15,132.21 L1451.17,130.31 L1453.20,128.41 L1455.22,126.53 L1457.25,124.65 L1459.27,122.78 L1461.30,120.93 L1463.32,119.09 L1465.35,117.26 L1467.37,115.45 L1469.40,113.65 L1471.42,111.87 L1473.45,110.11 L1475.47,108.37 L1477.50,106.66" fill="none" stroke="#920000" stroke-width="2.1" stroke-linejoin="round" stroke-linecap="butt"/><path d="M872.00,372.85 L874.03,372.85 L876.05,372.84 L878.08,372.83 L880.10,372.80 L882.13,372.77 L884.15,372.74 L886.18,372.69 L888.20,372.64 L890.23,372.58 L892.25,372.51 L894.28,372.44 L896.30,372.36 L898.33,372.27 L900.35,372.17 L902.38,372.07 L904.40,371.96 L906.43,371.85 L908.45,371.72 L910.48,371.59 L912.50,371.46 L914.53,371.32 L916.55,371.17 L918.58,371.01 L920.60,370.85 L922.63,370.68 L924.65,370.51 L926.68,370.33 L928.70,370.14 L930.73,369.95 L932.75,369.75 L934.78,369.55 L936.80,369.34 L938.83,369.12 L940.85,368.90 L942.88,368.67 L944.90,368.43 L946.93,368.20 L948.95,367.95 L950.98,367.70 L953.00,367.44 L955.03,367.18 L957.05,366.91 L959.08,366.64 L961.10,366.36 L963.13,366.08 L965.15,365.79 L967.18,365.50 L969.20,365.20 L971.23,364.89 L973.25,364.58 L975.28,364.27 L977.30,363.95 L979.33,363.63 L981.35,363.30 L983.38,362.96 L985.40,362.63 L987.43,362.28 L989.45,361.94 L991.48,361.59 L993.51,361.23 L995.53,360.87 L997.56,360.50 L999.58,360.13 L1001.61,359.76 L1003.63,359.38 L1005.66,359.00 L1007.68,358.61 L1009.71,358.22 L1011.73,357.83 L1013.76,357.43 L1015.78,357.02 L1017.81,356.62 L1019.83,356.20 L1021.86,355.79 L1023.88,355.37 L1025.91,354.94 L1027.93,354.51 L1029.96,354.08 L1031.98,353.64 L1034.01,353.20 L1036.03,352.75 L1038.06,352.30 L1040.08,351.84 L1042.11,351.38 L1044.13,350.92 L1046.16,350.45 L1048.18,349.97 L1050.21,349.49 L1052.23,349.01 L1054.26,348.53 L1056.28,348.03 L1058.31,347.54 L1060.33,347.04 L1062.36,346.53 L1064.38,346.02 L1066.41,345.51 L1068.43,344.99 L1070.46,344.47 L1072.48,343.94 L1074.51,343.41 L1076.53,342.87 L1078.56,342.33 L1080.58,341.78 L1082.61,341.23 L1084.63,340.68 L1086.66,340.12 L1088.68,339.55 L1090.71,338.98 L1092.73,338.41 L1094.76,337.82 L1096.78,337.24 L1098.81,336.65 L1100.83,336.05 L1102.86,335.45 L1104.88,334.84 L1106.91,334.22 L1108.93,333.60 L1110.96,332.98 L1112.98,332.34 L1115.01,331.70 L1117.04,331.06 L1119.06,330.41 L1121.09,329.75 L1123.11,329.08 L1125.14,328.41 L1127.16,327.73 L1129.19,327.04 L1131.21,326.35 L1133.24,325.65 L1135.26,324.94 L1137.29,324.22 L1139.31,323.50 L1141.34,322.77 L1143.36,322.04 L1145.39,321.29 L1147.41,320.54 L1149.44,319.78 L1151.46,319.02 L1153.49,318.24 L1155.51,317.46 L1157.54,316.67 L1159.56,315.88 L1161.59,315.08 L1163.61,314.26 L1165.64,313.45 L1167.66,312.62 L1169.69,311.79 L1171.71,310.95 L1173.74,310.10 L1175.76,309.25 L1177.79,308.39 L1179.81,307.52 L1181.84,306.65 L1183.86,305.77 L1185.89,304.88 L1187.91,303.98 L1189.94,303.08 L1191.96,302.17 L1193.99,301.26 L1196.01,300.34 L1198.04,299.41 L1200.06,298.47 L1202.09,297.53 L1204.11,296.59 L1206.14,295.63 L1208.16,294.66 L1210.19,293.69 L1212.21,292.70 L1214.24,291.71 L1216.26,290.71 L1218.29,289.70 L1220.31,288.68 L1222.34,287.65 L1224.36,286.61 L1226.39,285.57 L1228.41,284.51 L1230.44,283.44 L1232.46,282.37 L1234.49,281.28 L1236.52,280.19 L1238.54,279.08 L1240.57,277.97 L1242.59,276.84 L1244.62,275.71 L1246.64,274.56 L1248.67,273.41 L1250.69,272.24 L1252.72,271.07 L1254.74,269.88 L1256.77,268.68 L1258.79,267.48 L1260.82,266.26 L1262.84,265.03 L1264.87,263.79 L1266.89,262.55 L1268.92,261.29 L1270.94,260.02 L1272.97,258.74 L1274.99,257.45 L1277.02,256.15 L1279.04,254.84 L1281.07,253.51 L1283.09,252.18 L1285.12,250.84 L1287.14,249.49 L1289.17,248.12 L1291.19,246.75 L1293.22,245.37 L1295.24,243.97 L1297.27,242.57 L1299.29,241.15 L1301.32,239.72 L1303.34,238.29 L1305.37,236.84 L1307.39,235.38 L1309.42,233.91 L1311.44,232.43 L1313.47,230.94 L1315.49,229.44 L1317.52,227.93 L1319.54,226.41 L1321.57,224.87 L1323.59,223.33 L1325.62,221.78 L1327.64,220.21 L1329.67,218.64 L1331.69,217.05 L1333.72,215.46 L1335.74,213.85 L1337.77,212.23 L1339.79,210.60 L1341.82,208.96 L1343.84,207.31 L1345.87,205.65 L1347.89,203.98 L1349.92,202.30 L1351.94,200.60 L1353.97,198.90 L1355.99,197.19 L1358.02,195.46 L1360.05,193.73 L1362.07,191.98 L1364.10,190.22 L1366.12,188.45 L1368.15,186.67 L1370.17,184.88 L1372.20,183.08 L1374.22,181.27 L1376.25,179.45 L1378.27,177.61 L1380.30,175.77 L1382.32,173.91 L1384.35,172.05 L1386.37,170.17 L1388.40,168.28 L1390.42,166.38 L1392.45,164.47 L1394.47,162.55 L1396.50,160.62 L1398.52,158.68 L1400.55,156.72 L1402.57,154.76 L1404.60,152.78 L1406.62,150.80 L1408.65,148.80 L1410.67,146.79 L1412.70,144.77 L1414.72,142.74 L1416.75,140.70 L1418.77,138.65 L1420.80,136.58 L1422.82,134.51 L1424.85,132.42 L1426.87,130.32 L1428.90,128.22 L1430.92,126.10 L1432.95,123.97 L1434.97,121.83 L1437.00,119.67 L1439.02,117.51 L1441.05,115.34 L1443.07,113.15 L1445.10,110.95 L1447.12,108.75 L1449.15,106.53 L1451.17,104.30 L1453.20,102.05 L1455.22,99.80 L1457.25,97.54 L1459.27,95.26 L1461.30,92.98 L1463.32,90.68 L1465.35,88.37 L1467.37,86.05 L1469.40,83.72 L1471.42,81.38 L1473.45,79.02 L1475.47,76.66 L1477.50,74.28" fill="none" stroke="#009000" stroke-width="2.1" stroke-linejoin="round" stroke-linecap="butt"/><path d="M872.00,372.85 L874.03,372.85 L876.05,372.84 L878.08,372.83 L880.10,372.80 L882.13,372.77 L884.15,372.74 L886.18,372.69 L888.20,372.64 L890.23,372.58 L892.25,372.51 L894.28,372.44 L896.30,372.36 L898.33,372.27 L900.35,372.17 L902.38,372.07 L904.40,371.96 L906.43,371.85 L908.45,371.72 L910.48,371.59 L912.50,371.46 L914.53,371.32 L916.55,371.17 L918.58,371.01 L920.60,370.85 L922.63,370.68 L924.65,370.51 L926.68,370.33 L928.70,370.14 L930.73,369.95 L932.75,369.75 L934.78,369.55 L936.80,369.34 L938.83,369.12 L940.85,368.90 L942.88,368.67 L944.90,368.43 L946.93,368.20 L948.95,367.95 L950.98,367.70 L953.00,367.44 L955.03,367.18 L957.05,366.91 L959.08,366.64 L961.10,366.36 L963.13,366.08 L965.15,365.79 L967.18,365.50 L969.20,365.20 L971.23,364.89 L973.25,364.58 L975.28,364.27 L977.30,363.95 L979.33,363.63 L981.35,363.30 L983.38,362.96 L985.40,362.63 L987.43,362.28 L989.45,361.94 L991.48,361.59 L993.51,361.23 L995.53,360.87 L997.56,360.50 L999.58,360.13 L1001.61,359.76 L1003.63,359.38 L1005.66,359.00 L1007.68,358.61 L1009.71,358.22 L1011.73,357.83 L1013.76,357.43 L1015.78,357.02 L1017.81,356.62 L1019.83,356.20 L1021.86,355.79 L1023.88,355.37 L1025.91,354.94 L1027.93,354.51 L1029.96,354.08 L1031.98,353.64 L1034.01,353.20 L1036.03,352.75 L1038.06,352.30 L1040.08,351.84 L1042.11,351.38 L1044.13,350.92 L1046.16,350.45 L1048.18,349.97 L1050.21,349.49 L1052.23,349.01 L1054.26,348.53 L1056.28,348.03 L1058.31,347.54 L1060.33,347.04 L1062.36,346.53 L1064.38,346.02 L1066.41,345.51 L1068.43,344.99 L1070.46,344.47 L1072.48,343.94 L1074.51,343.41 L1076.53,342.87 L1078.56,342.33 L1080.58,341.78 L1082.61,341.23 L1084.63,340.68 L1086.66,340.12 L1088.68,339.55 L1090.71,338.98 L1092.73,338.40 L1094.76,337.82 L1096.78,337.24 L1098.81,336.64 L1100.83,336.04 L1102.86,335.44 L1104.88,334.83 L1106.91,334.21 L1108.93,333.58 L1110.96,332.95 L1112.98,332.31 L1115.01,331.66 L1117.04,331.00 L1119.06,330.34 L1121.09,329.66 L1123.11,328.98 L1125.14,328.29 L1127.16,327.58 L1129.19,326.87 L1131.21,326.15 L1133.24,325.42 L1135.26,324.68 L1137.29,323.92 L1139.31,323.16 L1141.34,322.38 L1143.36,321.60 L1145.39,320.80 L1147.41,319.99 L1149.44,319.17 L1151.46,318.34 L1153.49,317.50 L1155.51,316.64 L1157.54,315.78 L1159.56,314.90 L1161.59,314.01 L1163.61,313.11 L1165.64,312.20 L1167.66,311.28 L1169.69,310.34 L1171.71,309.40 L1173.74,308.44 L1175.76,307.48 L1177.79,306.50 L1179.81,305.52 L1181.84,304.52 L1183.86,303.52 L1185.89,302.51 L1187.91,301.49 L1189.94,300.47 L1191.96,299.44 L1193.99,298.40 L1196.01,297.36 L1198.04,296.31 L1200.06,295.26 L1202.09,294.20 L1204.11,293.14 L1206.14,292.06 L1208.16,290.97 L1210.19,289.87 L1212.21,288.76 L1214.24,287.64 L1216.26,286.51 L1218.29,285.36 L1220.31,284.21 L1222.34,283.04 L1224.36,281.86 L1226.39,280.67 L1228.41,279.47 L1230.44,278.26 L1232.46,277.04 L1234.49,275.80 L1236.52,274.56 L1238.54,273.30 L1240.57,272.03 L1242.59,270.74 L1244.62,269.45 L1246.64,268.14 L1248.67,266.82 L1250.69,265.49 L1252.72,264.15 L1254.74,262.79 L1256.77,261.42 L1258.79,260.04 L1260.82,258.64 L1262.84,257.23 L1264.87,255.81 L1266.89,254.38 L1268.92,252.93 L1270.94,251.47 L1272.97,250.00 L1274.99,248.51 L1277.02,247.01 L1279.04,245.50 L1281.07,243.97 L1283.09,242.43 L1285.12,240.87 L1287.14,239.30 L1289.17,237.72 L1291.19,236.13 L1293.22,234.52 L1295.24,232.89 L1297.27,231.25 L1299.29,229.60 L1301.32,227.93 L1303.34,226.25 L1305.37,224.55 L1307.39,222.84 L1309.42,221.12 L1311.44,219.38 L1313.47,217.62 L1315.49,215.85 L1317.52,214.07 L1319.54,212.27 L1321.57,210.45 L1323.59,208.62 L1325.62,206.78 L1327.64,204.92 L1329.67,203.05 L1331.69,201.16 L1333.72,199.25 L1335.74,197.33 L1337.77,195.40 L1339.79,193.45 L1341.82,191.48 L1343.84,189.50 L1345.87,187.50 L1347.89,185.49 L1349.92,183.46 L1351.94,181.41 L1353.97,179.35 L1355.99,177.28 L1358.02,175.18 L1360.05,173.08 L1362.07,170.95 L1364.10,168.81 L1366.12,166.66 L1368.15,164.48 L1370.17,162.30 L1372.20,160.09 L1374.22,157.87 L1376.25,155.63 L1378.27,153.38 L1380.30,151.11 L1382.32,148.82 L1384.35,146.52 L1386.37,144.20 L1388.40,141.86 L1390.42,139.51 L1392.45,137.14 L1394.47,134.75 L1396.50,132.35 L1398.52,129.93 L1400.55,127.49 L1402.57,125.03 L1404.60,122.56 L1406.62,120.07 L1408.65,117.57 L1410.67,115.04 L1412.70,112.50 L1414.72,109.94 L1416.75,107.37 L1418.77,104.77 L1420.80,102.16 L1422.82,99.53 L1424.85,96.89 L1426.87,94.22 L1428.90,91.54 L1430.92,88.84 L1432.95,86.13 L1434.97,83.39 L1437.00,80.64 L1439.02,77.87 L1441.05,75.08 L1443.07,72.27 L1445.10,69.44 L1447.12,66.60 L1449.15,63.74 L1451.17,60.86 L1453.20,57.96 L1455.22,55.04 L1457.25,52.10 L1459.27,49.15 L1461.30,46.18 L1463.32,43.19 L1465.35,40.17 L1467.37,37.15 L1469.40,34.10 L1471.42,31.03 L1473.45,27.94 L1475.47,24.84 L1477.50,21.72" fill="none" stroke="#f68a1e" stroke-width="2.1" stroke-linejoin="round" stroke-linecap="butt"/><line x1="860.0" y1="2" x2="860.0" y2="392.7" stroke="#000" stroke-width="2"/><line x1="859.0" y1="391.7" x2="1490.9" y2="391.7" stroke="#000" stroke-width="2"/><line x1="860.0" y1="373.00" x2="863.0" y2="373.00" stroke="#000" stroke-width="1"/><line x1="860.0" y1="319.06" x2="863.0" y2="319.06" stroke="#000" stroke-width="1"/><line x1="860.0" y1="265.13" x2="863.0" y2="265.13" stroke="#000" stroke-width="1"/><line x1="860.0" y1="211.19" x2="863.0" y2="211.19" stroke="#000" stroke-width="1"/><line x1="860.0" y1="157.26" x2="863.0" y2="157.26" stroke="#000" stroke-width="1"/><line x1="860.0" y1="103.32" x2="863.0" y2="103.32" stroke="#000" stroke-width="1"/><line x1="860.0" y1="49.39" x2="863.0" y2="49.39" stroke="#000" stroke-width="1"/><line x1="872.70" y1="391.7" x2="872.70" y2="388.7" stroke="#000" stroke-width="1"/><line x1="1023.75" y1="391.7" x2="1023.75" y2="388.7" stroke="#000" stroke-width="1"/><line x1="1174.80" y1="391.7" x2="1174.80" y2="388.7" stroke="#000" stroke-width="1"/><line x1="1325.85" y1="391.7" x2="1325.85" y2="388.7" stroke="#000" stroke-width="1"/><line x1="1476.90" y1="391.7" x2="1476.90" y2="388.7" stroke="#000" stroke-width="1"/><text x="855.44" y="380.56" font-family='"Liberation Sans", sans-serif' font-size="26" text-anchor="end">0.00</text><text x="855.44" y="326.63" font-family='"Liberation Sans", sans-serif' font-size="26" text-anchor="end">0.05</text><text x="855.44" y="272.69" font-family='"Liberation Sans", sans-serif' font-size="26" text-anchor="end">0.10</text><text x="855.44" y="218.75" font-family='"Liberation Sans", sans-serif' font-size="26" text-anchor="end">0.15</text><text x="855.44" y="164.82" font-family='"Liberation Sans", sans-serif' font-size="26" text-anchor="end">0.20</text><text x="855.44" y="110.89" font-family='"Liberation Sans", sans-serif' font-size="26" text-anchor="end">0.25</text><text x="855.44" y="56.95" font-family='"Liberation Sans", sans-serif' font-size="26" text-anchor="end">0.30</text><text x="872.70" y="420.4" font-family='"Liberation Sans", sans-serif' font-size="26" text-anchor="middle">0.0</text><text x="1023.75" y="420.4" font-family='"Liberation Sans", sans-serif' font-size="26" text-anchor="middle">0.2</text><text x="1174.80" y="420.4" font-family='"Liberation Sans", sans-serif' font-size="26" text-anchor="middle">0.4</text><text x="1325.85" y="420.4" font-family='"Liberation Sans", sans-serif' font-size="26" text-anchor="middle">0.6</text><text x="1476.90" y="420.4" font-family='"Liberation Sans", sans-serif' font-size="26" text-anchor="middle">0.8</text><text x="886.90" y="76.3" font-family='"Liberation Serif", serif' font-size="28.7" style="word-spacing:2.87px"><tspan>Ha = 1, L = 0.05, </tspan><tspan font-style="italic">R</tspan><tspan font-style="italic" font-size="21.52" dy="4.88">n</tspan><tspan dy="-4.88"> = 2, </tspan><tspan font-style="italic">S</tspan><tspan font-style="italic" font-size="21.52" dy="4.88">p</tspan><tspan dy="-4.88"> = 0.5</tspan></text><rect x="1089.9" y="109.3" width="144.90" height="149.30" rx="6" fill="#fff" stroke="#5c5c5c" stroke-width="1.2"/><rect x="1104.4" y="131.0" width="12" height="12" fill="#000099" stroke="#00005a" stroke-width="1"/><text x="1126.60" y="143.3" font-family='"Liberation Serif", serif' font-size="30" style="word-spacing:0.80px"><tspan>K</tspan><tspan> = 1</tspan></text><rect x="1104.4" y="163.9" width="12" height="12" fill="#990000" stroke="#5a0000" stroke-width="1"/><text x="1126.60" y="175.8" font-family='"Liberation Serif", serif' font-size="30" style="word-spacing:1.10px"><tspan>K</tspan><tspan> = 1.5</tspan></text><rect x="1104.4" y="196.6" width="12" height="12" fill="#009900" stroke="#005a00" stroke-width="1"/><text x="1126.60" y="208.3" font-family='"Liberation Serif", serif' font-size="30" style="word-spacing:1.30px"><tspan>K</tspan><tspan> = 2</tspan></text><rect x="1104.4" y="229.2" width="12" height="12" fill="#ff8000" stroke="#b35a00" stroke-width="1"/><text x="1126.60" y="241.2" font-family='"Liberation Serif", serif' font-size="30" style="word-spacing:1.10px"><tspan>K</tspan><tspan> = 2.5</tspan></text><line x1="1319" y1="286.5" x2="1255.01" y2="211.15" stroke="#580204" stroke-width="2"/><path d="M1240.7,194.3 L1260.84,208.29 L1255.01,211.15 L1251.24,216.44 Z" fill="#580204"/><text x="1176.00" y="455.31" font-family='"Liberation Serif", serif' font-size="30.95" font-style="italic" text-anchor="middle">y</text><text transform="translate(793.00,196.80) rotate(-90)" font-family='"Liberation Serif", serif' font-size="30.72" font-style="italic" text-anchor="middle">Be</text><text x="1177.15" y="511.90" font-family='"Liberation Serif", serif' font-size="40.49" font-weight="bold" text-anchor="middle">(b)</text></g><g><path d="M101.40,893.55 L103.47,893.55 L105.54,893.54 L107.61,893.51 L109.68,893.48 L111.75,893.44 L113.82,893.38 L115.88,893.32 L117.95,893.25 L120.02,893.16 L122.09,893.07 L124.16,892.97 L126.23,892.86 L128.30,892.74 L130.37,892.61 L132.44,892.47 L134.51,892.32 L136.58,892.16 L138.65,892.00 L140.72,891.82 L142.78,891.64 L144.85,891.45 L146.92,891.25 L148.99,891.04 L151.06,890.82 L153.13,890.60 L155.20,890.36 L157.27,890.12 L159.34,889.87 L161.41,889.61 L163.48,889.35 L165.55,889.08 L167.62,888.80 L169.68,888.51 L171.75,888.21 L173.82,887.91 L175.89,887.60 L177.96,887.28 L180.03,886.96 L182.10,886.63 L184.17,886.29 L186.24,885.95 L188.31,885.60 L190.38,885.24 L192.45,884.88 L194.52,884.51 L196.58,884.13 L198.65,883.75 L200.72,883.36 L202.79,882.96 L204.86,882.56 L206.93,882.16 L209.00,881.75 L211.07,881.33 L213.14,880.90 L215.21,880.48 L217.28,880.04 L219.35,879.60 L221.42,879.16 L223.48,878.71 L225.55,878.25 L227.62,877.79 L229.69,877.33 L231.76,876.86 L233.83,876.39 L235.90,875.91 L237.97,875.43 L240.04,874.94 L242.11,874.45 L244.18,873.96 L246.25,873.46 L248.32,872.96 L250.38,872.46 L252.45,871.95 L254.52,871.44 L256.59,870.93 L258.66,870.41 L260.73,869.89 L262.80,869.36 L264.87,868.83 L266.94,868.29 L269.01,867.75 L271.08,867.21 L273.15,866.65 L275.22,866.10 L277.28,865.54 L279.35,864.97 L281.42,864.39 L283.49,863.81 L285.56,863.23 L287.63,862.64 L289.70,862.04 L291.77,861.43 L293.84,860.82 L295.91,860.20 L297.98,859.57 L300.05,858.94 L302.12,858.30 L304.18,857.65 L306.25,857.00 L308.32,856.33 L310.39,855.66 L312.46,854.99 L314.53,854.30 L316.60,853.61 L318.67,852.91 L320.74,852.21 L322.81,851.50 L324.88,850.78 L326.95,850.06 L329.02,849.33 L331.08,848.59 L333.15,847.85 L335.22,847.11 L337.29,846.36 L339.36,845.61 L341.43,844.86 L343.50,844.10 L345.57,843.34 L347.64,842.58 L349.71,841.81 L351.78,841.05 L353.85,840.28 L355.92,839.51 L357.98,838.74 L360.05,837.98 L362.12,837.21 L364.19,836.43 L366.26,835.65 L368.33,834.86 L370.40,834.07 L372.47,833.28 L374.54,832.47 L376.61,831.66 L378.68,830.85 L380.75,830.03 L382.82,829.20 L384.88,828.36 L386.95,827.52 L389.02,826.67 L391.09,825.81 L393.16,824.95 L395.23,824.08 L397.30,823.20 L399.37,822.31 L401.44,821.41 L403.51,820.51 L405.58,819.60 L407.65,818.68 L409.72,817.75 L411.78,816.81 L413.85,815.86 L415.92,814.90 L417.99,813.93 L420.06,812.96 L422.13,811.97 L424.20,810.97 L426.27,809.96 L428.34,808.95 L430.41,807.92 L432.48,806.88 L434.55,805.83 L436.62,804.77 L438.68,803.70 L440.75,802.61 L442.82,801.52 L444.89,800.41 L446.96,799.29 L449.03,798.16 L451.10,797.01 L453.17,795.86 L455.24,794.69 L457.31,793.51 L459.38,792.31 L461.45,791.11 L463.52,789.88 L465.58,788.65 L467.65,787.40 L469.72,786.14 L471.79,784.86 L473.86,783.57 L475.93,782.27 L478.00,780.95 L480.07,779.61 L482.14,778.27 L484.21,776.90 L486.28,775.52 L488.35,774.13 L490.42,772.72 L492.48,771.29 L494.55,769.85 L496.62,768.39 L498.69,766.92 L500.76,765.43 L502.83,763.92 L504.90,762.39 L506.97,760.85 L509.04,759.30 L511.11,757.73 L513.18,756.14 L515.25,754.53 L517.32,752.91 L519.38,751.28 L521.45,749.63 L523.52,747.96 L525.59,746.28 L527.66,744.58 L529.73,742.87 L531.80,741.14 L533.87,739.40 L535.94,737.64 L538.01,735.87 L540.08,734.08 L542.15,732.28 L544.22,730.47 L546.28,728.64 L548.35,726.80 L550.42,724.94 L552.49,723.07 L554.56,721.18 L556.63,719.28 L558.70,717.37 L560.77,715.45 L562.84,713.51 L564.91,711.56 L566.98,709.59 L569.05,707.61 L571.12,705.62 L573.18,703.62 L575.25,701.60 L577.32,699.57 L579.39,697.53 L581.46,695.48 L583.53,693.41 L585.60,691.33 L587.67,689.24 L589.74,687.14 L591.81,685.02 L593.88,682.90 L595.95,680.76 L598.02,678.61 L600.08,676.45 L602.15,674.28 L604.22,672.10 L606.29,669.90 L608.36,667.70 L610.43,665.48 L612.50,663.26 L614.57,661.02 L616.64,658.77 L618.71,656.51 L620.78,654.25 L622.85,651.97 L624.92,649.68 L626.98,647.38 L629.05,645.07 L631.12,642.76 L633.19,640.43 L635.26,638.09 L637.33,635.74 L639.40,633.39 L641.47,631.02 L643.54,628.65 L645.61,626.27 L647.68,623.88 L649.75,621.48 L651.82,619.07 L653.88,616.65 L655.95,614.22 L658.02,611.79 L660.09,609.35 L662.16,606.90 L664.23,604.44 L666.30,601.97 L668.37,599.50 L670.44,597.02 L672.51,594.53 L674.58,592.03 L676.65,589.53 L678.72,587.02 L680.78,584.50 L682.85,581.97 L684.92,579.44 L686.99,576.90 L689.06,574.36 L691.13,571.80 L693.20,569.24 L695.27,566.68 L697.34,564.11 L699.41,561.53 L701.48,558.95 L703.55,556.36 L705.62,553.76 L707.68,551.16 L709.75,548.56 L711.82,545.95 L713.89,543.33 L715.96,540.71 L718.03,538.08 L720.10,535.45" fill="none" stroke="#000090" stroke-width="2.1" stroke-linejoin="round" stroke-linecap="butt"/><path d="M101.40,893.55 L103.47,893.55 L105.54,893.54 L107.61,893.51 L109.68,893.48 L111.75,893.44 L113.82,893.38 L115.88,893.32 L117.95,893.25 L120.02,893.16 L122.09,893.07 L124.16,892.97 L126.23,892.86 L128.30,892.74 L130.37,892.61 L132.44,892.47 L134.51,892.32 L136.58,892.16 L138.65,892.00 L140.72,891.82 L142.78,891.64 L144.85,891.45 L146.92,891.25 L148.99,891.04 L151.06,890.82 L153.13,890.60 L155.20,890.36 L157.27,890.12 L159.34,889.87 L161.41,889.61 L163.48,889.35 L165.55,889.08 L167.62,888.80 L169.68,888.51 L171.75,888.21 L173.82,887.91 L175.89,887.60 L177.96,887.28 L180.03,886.96 L182.10,886.63 L184.17,886.29 L186.24,885.95 L188.31,885.60 L190.38,885.24 L192.45,884.88 L194.52,884.51 L196.58,884.13 L198.65,883.75 L200.72,883.36 L202.79,882.96 L204.86,882.56 L206.93,882.16 L209.00,881.75 L211.07,881.33 L213.14,880.90 L215.21,880.48 L217.28,880.04 L219.35,879.60 L221.42,879.16 L223.48,878.71 L225.55,878.25 L227.62,877.79 L229.69,877.33 L231.76,876.86 L233.83,876.39 L235.90,875.91 L237.97,875.43 L240.04,874.94 L242.11,874.45 L244.18,873.96 L246.25,873.46 L248.32,872.95 L250.38,872.44 L252.45,871.93 L254.52,871.42 L256.59,870.90 L258.66,870.37 L260.73,869.85 L262.80,869.32 L264.87,868.79 L266.94,868.25 L269.01,867.71 L271.08,867.17 L273.15,866.63 L275.22,866.08 L277.28,865.53 L279.35,864.98 L281.42,864.43 L283.49,863.87 L285.56,863.31 L287.63,862.75 L289.70,862.18 L291.77,861.62 L293.84,861.05 L295.91,860.48 L297.98,859.90 L300.05,859.33 L302.12,858.75 L304.18,858.16 L306.25,857.58 L308.32,856.99 L310.39,856.39 L312.46,855.80 L314.53,855.20 L316.60,854.59 L318.67,853.99 L320.74,853.37 L322.81,852.76 L324.88,852.14 L326.95,851.52 L329.02,850.89 L331.08,850.26 L333.15,849.62 L335.22,848.98 L337.29,848.34 L339.36,847.69 L341.43,847.04 L343.50,846.39 L345.57,845.72 L347.64,845.06 L349.71,844.39 L351.78,843.72 L353.85,843.04 L355.92,842.35 L357.98,841.66 L360.05,840.97 L362.12,840.27 L364.19,839.57 L366.26,838.86 L368.33,838.14 L370.40,837.42 L372.47,836.70 L374.54,835.97 L376.61,835.23 L378.68,834.49 L380.75,833.74 L382.82,832.98 L384.88,832.22 L386.95,831.45 L389.02,830.68 L391.09,829.90 L393.16,829.11 L395.23,828.32 L397.30,827.52 L399.37,826.71 L401.44,825.89 L403.51,825.07 L405.58,824.24 L407.65,823.40 L409.72,822.56 L411.78,821.70 L413.85,820.84 L415.92,819.98 L417.99,819.10 L420.06,818.22 L422.13,817.32 L424.20,816.42 L426.27,815.51 L428.34,814.59 L430.41,813.67 L432.48,812.73 L434.55,811.79 L436.62,810.83 L438.68,809.87 L440.75,808.90 L442.82,807.92 L444.89,806.93 L446.96,805.92 L449.03,804.91 L451.10,803.89 L453.17,802.86 L455.24,801.82 L457.31,800.77 L459.38,799.71 L461.45,798.64 L463.52,797.56 L465.58,796.47 L467.65,795.37 L469.72,794.26 L471.79,793.13 L473.86,792.00 L475.93,790.85 L478.00,789.69 L480.07,788.52 L482.14,787.34 L484.21,786.15 L486.28,784.95 L488.35,783.73 L490.42,782.50 L492.48,781.26 L494.55,780.01 L496.62,778.75 L498.69,777.47 L500.76,776.18 L502.83,774.88 L504.90,773.57 L506.97,772.24 L509.04,770.90 L511.11,769.55 L513.18,768.19 L515.25,766.81 L517.32,765.42 L519.38,764.02 L521.45,762.61 L523.52,761.19 L525.59,759.75 L527.66,758.30 L529.73,756.84 L531.80,755.37 L533.87,753.88 L535.94,752.39 L538.01,750.88 L540.08,749.36 L542.15,747.83 L544.22,746.29 L546.28,744.73 L548.35,743.16 L550.42,741.59 L552.49,740.00 L554.56,738.39 L556.63,736.78 L558.70,735.16 L560.77,733.52 L562.84,731.88 L564.91,730.22 L566.98,728.55 L569.05,726.87 L571.12,725.18 L573.18,723.47 L575.25,721.76 L577.32,720.03 L579.39,718.30 L581.46,716.55 L583.53,714.79 L585.60,713.02 L587.67,711.24 L589.74,709.45 L591.81,707.65 L593.88,705.84 L595.95,704.02 L598.02,702.19 L600.08,700.34 L602.15,698.49 L604.22,696.62 L606.29,694.75 L608.36,692.86 L610.43,690.97 L612.50,689.06 L614.57,687.14 L616.64,685.22 L618.71,683.28 L620.78,681.33 L622.85,679.38 L624.92,677.41 L626.98,675.43 L629.05,673.44 L631.12,671.45 L633.19,669.44 L635.26,667.42 L637.33,665.40 L639.40,663.36 L641.47,661.31 L643.54,659.26 L645.61,657.19 L647.68,655.12 L649.75,653.03 L651.82,650.94 L653.88,648.83 L655.95,646.72 L658.02,644.60 L660.09,642.46 L662.16,640.32 L664.23,638.17 L666.30,636.01 L668.37,633.84 L670.44,631.66 L672.51,629.47 L674.58,627.28 L676.65,625.07 L678.72,622.86 L680.78,620.63 L682.85,618.40 L684.92,616.16 L686.99,613.91 L689.06,611.65 L691.13,609.38 L693.20,607.11 L695.27,604.82 L697.34,602.53 L699.41,600.22 L701.48,597.91 L703.55,595.59 L705.62,593.27 L707.68,590.93 L709.75,588.59 L711.82,586.23 L713.89,583.87 L715.96,581.50 L718.03,579.12 L720.10,576.74" fill="none" stroke="#920000" stroke-width="2.1" stroke-linejoin="round" stroke-linecap="butt"/><path d="M101.40,893.55 L103.47,893.55 L105.54,893.54 L107.61,893.51 L109.68,893.48 L111.75,893.44 L113.82,893.38 L115.88,893.32 L117.95,893.25 L120.02,893.16 L122.09,893.07 L124.16,892.97 L126.23,892.86 L128.30,892.74 L130.37,892.61 L132.44,892.47 L134.51,892.32 L136.58,892.16 L138.65,892.00 L140.72,891.82 L142.78,891.64 L144.85,891.45 L146.92,891.25 L148.99,891.04 L151.06,890.82 L153.13,890.60 L155.20,890.36 L157.27,890.12 L159.34,889.87 L161.41,889.61 L163.48,889.35 L165.55,889.08 L167.62,888.80 L169.68,888.51 L171.75,888.21 L173.82,887.91 L175.89,887.60 L177.96,887.28 L180.03,886.96 L182.10,886.63 L184.17,886.29 L186.24,885.95 L188.31,885.60 L190.38,885.24 L192.45,884.88 L194.52,884.51 L196.58,884.13 L198.65,883.75 L200.72,883.36 L202.79,882.96 L204.86,882.56 L206.93,882.16 L209.00,881.75 L211.07,881.33 L213.14,880.90 L215.21,880.48 L217.28,880.04 L219.35,879.60 L221.42,879.16 L223.48,878.71 L225.55,878.25 L227.62,877.79 L229.69,877.33 L231.76,876.86 L233.83,876.39 L235.90,875.91 L237.97,875.43 L240.04,874.94 L242.11,874.45 L244.18,873.96 L246.25,873.46 L248.32,872.95 L250.38,872.45 L252.45,871.94 L254.52,871.42 L256.59,870.91 L258.66,870.39 L260.73,869.86 L262.80,869.33 L264.87,868.80 L266.94,868.27 L269.01,867.73 L271.08,867.20 L273.15,866.65 L275.22,866.11 L277.28,865.56 L279.35,865.02 L281.42,864.47 L283.49,863.91 L285.56,863.36 L287.63,862.80 L289.70,862.25 L291.77,861.69 L293.84,861.13 L295.91,860.57 L297.98,860.00 L300.05,859.44 L302.12,858.88 L304.18,858.31 L306.25,857.74 L308.32,857.18 L310.39,856.61 L312.46,856.03 L314.53,855.46 L316.60,854.89 L318.67,854.31 L320.74,853.73 L322.81,853.15 L324.88,852.57 L326.95,851.98 L329.02,851.39 L331.08,850.80 L333.15,850.20 L335.22,849.61 L337.29,849.00 L339.36,848.40 L341.43,847.79 L343.50,847.17 L345.57,846.55 L347.64,845.93 L349.71,845.30 L351.78,844.66 L353.85,844.02 L355.92,843.37 L357.98,842.72 L360.05,842.06 L362.12,841.40 L364.19,840.72 L366.26,840.05 L368.33,839.37 L370.40,838.68 L372.47,837.99 L374.54,837.29 L376.61,836.58 L378.68,835.87 L380.75,835.16 L382.82,834.44 L384.88,833.71 L386.95,832.98 L389.02,832.24 L391.09,831.49 L393.16,830.74 L395.23,829.98 L397.30,829.21 L399.37,828.44 L401.44,827.65 L403.51,826.87 L405.58,826.07 L407.65,825.27 L409.72,824.46 L411.78,823.64 L413.85,822.82 L415.92,821.99 L417.99,821.15 L420.06,820.30 L422.13,819.45 L424.20,818.58 L426.27,817.71 L428.34,816.83 L430.41,815.94 L432.48,815.04 L434.55,814.14 L436.62,813.22 L438.68,812.30 L440.75,811.37 L442.82,810.43 L444.89,809.48 L446.96,808.52 L449.03,807.55 L451.10,806.57 L453.17,805.59 L455.24,804.59 L457.31,803.58 L459.38,802.56 L461.45,801.54 L463.52,800.50 L465.58,799.46 L467.65,798.40 L469.72,797.33 L471.79,796.26 L473.86,795.17 L475.93,794.08 L478.00,792.97 L480.07,791.85 L482.14,790.73 L484.21,789.59 L486.28,788.45 L488.35,787.29 L490.42,786.13 L492.48,784.96 L494.55,783.77 L496.62,782.58 L498.69,781.37 L500.76,780.16 L502.83,778.94 L504.90,777.71 L506.97,776.46 L509.04,775.21 L511.11,773.95 L513.18,772.68 L515.25,771.40 L517.32,770.11 L519.38,768.81 L521.45,767.50 L523.52,766.18 L525.59,764.85 L527.66,763.51 L529.73,762.16 L531.80,760.80 L533.87,759.44 L535.94,758.06 L538.01,756.68 L540.08,755.28 L542.15,753.87 L544.22,752.46 L546.28,751.04 L548.35,749.60 L550.42,748.16 L552.49,746.71 L554.56,745.25 L556.63,743.78 L558.70,742.30 L560.77,740.81 L562.84,739.31 L564.91,737.80 L566.98,736.28 L569.05,734.75 L571.12,733.22 L573.18,731.67 L575.25,730.12 L577.32,728.55 L579.39,726.98 L581.46,725.40 L583.53,723.81 L585.60,722.20 L587.67,720.59 L589.74,718.97 L591.81,717.35 L593.88,715.71 L595.95,714.06 L598.02,712.41 L600.08,710.74 L602.15,709.07 L604.22,707.38 L606.29,705.69 L608.36,703.99 L610.43,702.28 L612.50,700.56 L614.57,698.83 L616.64,697.09 L618.71,695.35 L620.78,693.59 L622.85,691.83 L624.92,690.05 L626.98,688.27 L629.05,686.48 L631.12,684.68 L633.19,682.87 L635.26,681.05 L637.33,679.22 L639.40,677.39 L641.47,675.54 L643.54,673.69 L645.61,671.82 L647.68,669.95 L649.75,668.07 L651.82,666.18 L653.88,664.28 L655.95,662.38 L658.02,660.46 L660.09,658.54 L662.16,656.60 L664.23,654.66 L666.30,652.71 L668.37,650.75 L670.44,648.78 L672.51,646.81 L674.58,644.82 L676.65,642.83 L678.72,640.83 L680.78,638.81 L682.85,636.79 L684.92,634.77 L686.99,632.73 L689.06,630.68 L691.13,628.63 L693.20,626.57 L695.27,624.49 L697.34,622.41 L699.41,620.33 L701.48,618.23 L703.55,616.12 L705.62,614.01 L707.68,611.89 L709.75,609.75 L711.82,607.62 L713.89,605.47 L715.96,603.31 L718.03,601.15 L720.10,598.97" fill="none" stroke="#009000" stroke-width="2.1" stroke-linejoin="round" stroke-linecap="butt"/><path d="M101.40,893.55 L103.47,893.55 L105.54,893.54 L107.61,893.51 L109.68,893.48 L111.75,893.44 L113.82,893.38 L115.88,893.32 L117.95,893.25 L120.02,893.16 L122.09,893.07 L124.16,892.97 L126.23,892.86 L128.30,892.74 L130.37,892.61 L132.44,892.47 L134.51,892.32 L136.58,892.16 L138.65,892.00 L140.72,891.82 L142.78,891.64 L144.85,891.45 L146.92,891.25 L148.99,891.04 L151.06,890.82 L153.13,890.60 L155.20,890.36 L157.27,890.12 L159.34,889.87 L161.41,889.61 L163.48,889.35 L165.55,889.08 L167.62,888.80 L169.68,888.51 L171.75,888.21 L173.82,887.91 L175.89,887.60 L177.96,887.28 L180.03,886.96 L182.10,886.63 L184.17,886.29 L186.24,885.95 L188.31,885.60 L190.38,885.24 L192.45,884.88 L194.52,884.51 L196.58,884.13 L198.65,883.75 L200.72,883.36 L202.79,882.96 L204.86,882.56 L206.93,882.16 L209.00,881.75 L211.07,881.33 L213.14,880.90 L215.21,880.48 L217.28,880.04 L219.35,879.60 L221.42,879.16 L223.48,878.71 L225.55,878.25 L227.62,877.79 L229.69,877.33 L231.76,876.86 L233.83,876.39 L235.90,875.91 L237.97,875.43 L240.04,874.94 L242.11,874.45 L244.18,873.95 L246.25,873.45 L248.32,872.95 L250.38,872.44 L252.45,871.92 L254.52,871.41 L256.59,870.88 L258.66,870.36 L260.73,869.83 L262.80,869.29 L264.87,868.76 L266.94,868.22 L269.01,867.68 L271.08,867.13 L273.15,866.58 L275.22,866.03 L277.28,865.48 L279.35,864.93 L281.42,864.37 L283.49,863.82 L285.56,863.26 L287.63,862.70 L289.70,862.14 L291.77,861.59 L293.84,861.03 L295.91,860.47 L297.98,859.91 L300.05,859.35 L302.12,858.80 L304.18,858.24 L306.25,857.68 L308.32,857.13 L310.39,856.57 L312.46,856.02 L314.53,855.46 L316.60,854.91 L318.67,854.35 L320.74,853.79 L322.81,853.24 L324.88,852.68 L326.95,852.13 L329.02,851.57 L331.08,851.01 L333.15,850.45 L335.22,849.89 L337.29,849.32 L339.36,848.75 L341.43,848.18 L343.50,847.61 L345.57,847.03 L347.64,846.45 L349.71,845.86 L351.78,845.27 L353.85,844.67 L355.92,844.07 L357.98,843.46 L360.05,842.84 L362.12,842.22 L364.19,841.59 L366.26,840.96 L368.33,840.32 L370.40,839.68 L372.47,839.03 L374.54,838.38 L376.61,837.72 L378.68,837.06 L380.75,836.39 L382.82,835.71 L384.88,835.03 L386.95,834.34 L389.02,833.65 L391.09,832.95 L393.16,832.25 L395.23,831.54 L397.30,830.82 L399.37,830.09 L401.44,829.36 L403.51,828.62 L405.58,827.88 L407.65,827.13 L409.72,826.37 L411.78,825.60 L413.85,824.83 L415.92,824.04 L417.99,823.25 L420.06,822.46 L422.13,821.65 L424.20,820.84 L426.27,820.02 L428.34,819.19 L430.41,818.35 L432.48,817.50 L434.55,816.65 L436.62,815.78 L438.68,814.91 L440.75,814.03 L442.82,813.14 L444.89,812.24 L446.96,811.33 L449.03,810.41 L451.10,809.48 L453.17,808.55 L455.24,807.60 L457.31,806.64 L459.38,805.67 L461.45,804.70 L463.52,803.71 L465.58,802.71 L467.65,801.70 L469.72,800.68 L471.79,799.66 L473.86,798.62 L475.93,797.57 L478.00,796.51 L480.07,795.45 L482.14,794.37 L484.21,793.29 L486.28,792.19 L488.35,791.09 L490.42,789.98 L492.48,788.85 L494.55,787.72 L496.62,786.58 L498.69,785.43 L500.76,784.28 L502.83,783.11 L504.90,781.93 L506.97,780.75 L509.04,779.56 L511.11,778.35 L513.18,777.14 L515.25,775.93 L517.32,774.70 L519.38,773.47 L521.45,772.22 L523.52,770.97 L525.59,769.71 L527.66,768.45 L529.73,767.17 L531.80,765.89 L533.87,764.60 L535.94,763.30 L538.01,762.00 L540.08,760.68 L542.15,759.36 L544.22,758.04 L546.28,756.70 L548.35,755.36 L550.42,754.01 L552.49,752.65 L554.56,751.29 L556.63,749.92 L558.70,748.54 L560.77,747.16 L562.84,745.77 L564.91,744.37 L566.98,742.97 L569.05,741.55 L571.12,740.14 L573.18,738.71 L575.25,737.28 L577.32,735.85 L579.39,734.41 L581.46,732.96 L583.53,731.50 L585.60,730.04 L587.67,728.58 L589.74,727.11 L591.81,725.63 L593.88,724.14 L595.95,722.65 L598.02,721.16 L600.08,719.66 L602.15,718.15 L604.22,716.64 L606.29,715.13 L608.36,713.61 L610.43,712.08 L612.50,710.55 L614.57,709.01 L616.64,707.46 L618.71,705.91 L620.78,704.35 L622.85,702.78 L624.92,701.21 L626.98,699.63 L629.05,698.04 L631.12,696.44 L633.19,694.83 L635.26,693.22 L637.33,691.59 L639.40,689.96 L641.47,688.32 L643.54,686.66 L645.61,685.00 L647.68,683.33 L649.75,681.64 L651.82,679.95 L653.88,678.24 L655.95,676.52 L658.02,674.79 L660.09,673.05 L662.16,671.30 L664.23,669.53 L666.30,667.75 L668.37,665.96 L670.44,664.16 L672.51,662.34 L674.58,660.51 L676.65,658.66 L678.72,656.80 L680.78,654.93 L682.85,653.03 L684.92,651.13 L686.99,649.21 L689.06,647.27 L691.13,645.32 L693.20,643.35 L695.27,641.37 L697.34,639.38 L699.41,637.39 L701.48,635.39 L703.55,633.38 L705.62,631.39 L707.68,629.39 L709.75,627.40 L711.82,625.43 L713.89,623.46 L715.96,621.52 L718.03,619.59 L720.10,617.68" fill="none" stroke="#f68a1e" stroke-width="2.1" stroke-linejoin="round" stroke-linecap="butt"/><line x1="90.0" y1="515.2" x2="90.0" y2="914.4" stroke="#000" stroke-width="2"/><line x1="89.0" y1="913.4" x2="733.8" y2="913.4" stroke="#000" stroke-width="2"/><line x1="90.0" y1="893.60" x2="93.0" y2="893.60" stroke="#000" stroke-width="1"/><line x1="90.0" y1="830.56" x2="93.0" y2="830.56" stroke="#000" stroke-width="1"/><line x1="90.0" y1="767.52" x2="93.0" y2="767.52" stroke="#000" stroke-width="1"/><line x1="90.0" y1="704.48" x2="93.0" y2="704.48" stroke="#000" stroke-width="1"/><line x1="90.0" y1="641.44" x2="93.0" y2="641.44" stroke="#000" stroke-width="1"/><line x1="90.0" y1="578.40" x2="93.0" y2="578.40" stroke="#000" stroke-width="1"/><line x1="101.70" y1="913.4" x2="101.70" y2="910.4" stroke="#000" stroke-width="1"/><line x1="256.20" y1="913.4" x2="256.20" y2="910.4" stroke="#000" stroke-width="1"/><line x1="410.70" y1="913.4" x2="410.70" y2="910.4" stroke="#000" stroke-width="1"/><line x1="565.20" y1="913.4" x2="565.20" y2="910.4" stroke="#000" stroke-width="1"/><line x1="719.70" y1="913.4" x2="719.70" y2="910.4" stroke="#000" stroke-width="1"/><text x="86.04" y="900.66" font-family='"Liberation Sans", sans-serif' font-size="23.5" text-anchor="end">0.00</text><text x="86.04" y="837.62" font-family='"Liberation Sans", sans-serif' font-size="23.5" text-anchor="end">0.05</text><text x="86.04" y="774.58" font-family='"Liberation Sans", sans-serif' font-size="23.5" text-anchor="end">0.10</text><text x="86.04" y="711.54" font-family='"Liberation Sans", sans-serif' font-size="23.5" text-anchor="end">0.15</text><text x="86.04" y="648.50" font-family='"Liberation Sans", sans-serif' font-size="23.5" text-anchor="end">0.20</text><text x="86.04" y="585.46" font-family='"Liberation Sans", sans-serif' font-size="23.5" text-anchor="end">0.25</text><text x="101.70" y="938.1" font-family='"Liberation Sans", sans-serif' font-size="23.5" text-anchor="middle">0.0</text><text x="256.20" y="938.1" font-family='"Liberation Sans", sans-serif' font-size="23.5" text-anchor="middle">0.2</text><text x="410.70" y="938.1" font-family='"Liberation Sans", sans-serif' font-size="23.5" text-anchor="middle">0.4</text><text x="565.20" y="938.1" font-family='"Liberation Sans", sans-serif' font-size="23.5" text-anchor="middle">0.6</text><text x="719.70" y="938.1" font-family='"Liberation Sans", sans-serif' font-size="23.5" text-anchor="middle">0.8</text><text x="123.90" y="608.8" font-family='"Liberation Serif", serif' font-size="26.1" style="word-spacing:1.85px"><tspan>Ha = 1, K = 1, </tspan><tspan font-style="italic">R</tspan><tspan font-style="italic" font-size="19.58" dy="4.44">n</tspan><tspan dy="-4.44"> = 2, </tspan><tspan font-style="italic">S</tspan><tspan font-style="italic" font-size="19.58" dy="4.44">p</tspan><tspan dy="-4.44"> = 0.5</tspan></text><rect x="325.2" y="651.4" width="126.50" height="132.90" rx="6" fill="#fff" stroke="#5c5c5c" stroke-width="1.2"/><rect x="338.2" y="670.7" width="11" height="11" fill="#000099" stroke="#00005a" stroke-width="1"/><text x="359.20" y="681.7" font-family='"Liberation Serif", serif' font-size="26.8" style="word-spacing:0.70px"><tspan font-style="italic">L</tspan><tspan> = 0</tspan></text><rect x="338.2" y="700.1" width="11" height="11" fill="#990000" stroke="#5a0000" stroke-width="1"/><text x="359.20" y="710.5" font-family='"Liberation Serif", serif' font-size="26.8" style="word-spacing:-0.40px"><tspan font-style="italic">L</tspan><tspan> = 0.1</tspan></text><rect x="338.2" y="729.5" width="11" height="11" fill="#009900" stroke="#005a00" stroke-width="1"/><text x="359.20" y="740" font-family='"Liberation Serif", serif' font-size="26.8" style="word-spacing:1.10px"><tspan font-style="italic">L</tspan><tspan> = 0.2</tspan></text><rect x="338.2" y="758.5" width="11" height="11" fill="#ff8000" stroke="#b35a00" stroke-width="1"/><text x="359.20" y="768.8" font-family='"Liberation Serif", serif' font-size="26.8" style="word-spacing:0.50px"><tspan font-style="italic">L</tspan><tspan> = 0.3</tspan></text><line x1="456.9" y1="742.4" x2="519.18" y2="803.17" stroke="#580204" stroke-width="2"/><path d="M535,818.6 L513.64,806.56 L519.18,803.17 L522.44,797.54 Z" fill="#580204"/><text x="412.25" y="970.05" font-family='"Liberation Serif", serif' font-size="26.73" font-style="italic" text-anchor="middle">y</text><text transform="translate(28.80,713.50) rotate(-90)" font-family='"Liberation Serif", serif' font-size="25.90" font-style="italic" text-anchor="middle">Be</text><text x="411.05" y="1024.00" font-family='"Liberation Serif", serif' font-size="41.00" font-weight="bold" text-anchor="middle">(c)</text></g><g><path d="M866.40,889.14 L868.44,889.14 L870.48,889.13 L872.52,889.10 L874.56,889.06 L876.60,889.00 L878.64,888.93 L880.69,888.84 L882.73,888.74 L884.77,888.63 L886.81,888.50 L888.85,888.36 L890.89,888.21 L892.93,888.04 L894.97,887.86 L897.01,887.67 L899.05,887.46 L901.09,887.24 L903.13,887.01 L905.18,886.76 L907.22,886.51 L909.26,886.24 L911.30,885.96 L913.34,885.66 L915.38,885.36 L917.42,885.04 L919.46,884.71 L921.50,884.37 L923.54,884.02 L925.58,883.65 L927.62,883.27 L929.66,882.89 L931.71,882.49 L933.75,882.08 L935.79,881.66 L937.83,881.23 L939.87,880.79 L941.91,880.33 L943.95,879.87 L945.99,879.40 L948.03,878.91 L950.07,878.42 L952.11,877.91 L954.15,877.40 L956.20,876.87 L958.24,876.34 L960.28,875.80 L962.32,875.24 L964.36,874.68 L966.40,874.11 L968.44,873.53 L970.48,872.94 L972.52,872.34 L974.56,871.73 L976.60,871.11 L978.64,870.49 L980.68,869.85 L982.73,869.21 L984.77,868.56 L986.81,867.90 L988.85,867.23 L990.89,866.56 L992.93,865.87 L994.97,865.18 L997.01,864.48 L999.05,863.78 L1001.09,863.06 L1003.13,862.34 L1005.17,861.61 L1007.22,860.88 L1009.26,860.14 L1011.30,859.39 L1013.34,858.63 L1015.38,857.87 L1017.42,857.10 L1019.46,856.32 L1021.50,855.54 L1023.54,854.75 L1025.58,853.96 L1027.62,853.15 L1029.66,852.35 L1031.71,851.53 L1033.75,850.72 L1035.79,849.89 L1037.83,849.06 L1039.87,848.23 L1041.91,847.39 L1043.95,846.54 L1045.99,845.69 L1048.03,844.84 L1050.07,843.98 L1052.11,843.11 L1054.15,842.24 L1056.19,841.37 L1058.24,840.49 L1060.28,839.61 L1062.32,838.72 L1064.36,837.83 L1066.40,836.93 L1068.44,836.03 L1070.48,835.13 L1072.52,834.22 L1074.56,833.31 L1076.60,832.40 L1078.64,831.48 L1080.68,830.56 L1082.73,829.63 L1084.77,828.70 L1086.81,827.76 L1088.85,826.82 L1090.89,825.87 L1092.93,824.92 L1094.97,823.97 L1097.01,823.01 L1099.05,822.04 L1101.09,821.07 L1103.13,820.10 L1105.17,819.12 L1107.21,818.14 L1109.26,817.15 L1111.30,816.15 L1113.34,815.15 L1115.38,814.15 L1117.42,813.14 L1119.46,812.12 L1121.50,811.10 L1123.54,810.08 L1125.58,809.05 L1127.62,808.01 L1129.66,806.96 L1131.70,805.92 L1133.75,804.86 L1135.79,803.80 L1137.83,802.73 L1139.87,801.66 L1141.91,800.58 L1143.95,799.50 L1145.99,798.41 L1148.03,797.31 L1150.07,796.21 L1152.11,795.10 L1154.15,793.98 L1156.19,792.86 L1158.23,791.73 L1160.28,790.60 L1162.32,789.46 L1164.36,788.31 L1166.40,787.15 L1168.44,785.99 L1170.48,784.82 L1172.52,783.64 L1174.56,782.46 L1176.60,781.27 L1178.64,780.07 L1180.68,778.87 L1182.72,777.66 L1184.77,776.44 L1186.81,775.21 L1188.85,773.98 L1190.89,772.74 L1192.93,771.49 L1194.97,770.24 L1197.01,768.98 L1199.05,767.71 L1201.09,766.43 L1203.13,765.15 L1205.17,763.86 L1207.21,762.56 L1209.25,761.25 L1211.30,759.94 L1213.34,758.62 L1215.38,757.30 L1217.42,755.96 L1219.46,754.62 L1221.50,753.28 L1223.54,751.92 L1225.58,750.56 L1227.62,749.19 L1229.66,747.82 L1231.70,746.43 L1233.74,745.05 L1235.79,743.65 L1237.83,742.25 L1239.87,740.84 L1241.91,739.42 L1243.95,738.00 L1245.99,736.57 L1248.03,735.13 L1250.07,733.69 L1252.11,732.24 L1254.15,730.78 L1256.19,729.32 L1258.23,727.84 L1260.27,726.37 L1262.32,724.88 L1264.36,723.39 L1266.40,721.89 L1268.44,720.39 L1270.48,718.88 L1272.52,717.36 L1274.56,715.84 L1276.60,714.31 L1278.64,712.77 L1280.68,711.23 L1282.72,709.68 L1284.76,708.12 L1286.81,706.56 L1288.85,704.99 L1290.89,703.41 L1292.93,701.83 L1294.97,700.24 L1297.01,698.65 L1299.05,697.04 L1301.09,695.44 L1303.13,693.82 L1305.17,692.20 L1307.21,690.57 L1309.25,688.94 L1311.29,687.30 L1313.34,685.65 L1315.38,684.00 L1317.42,682.34 L1319.46,680.68 L1321.50,679.01 L1323.54,677.33 L1325.58,675.65 L1327.62,673.96 L1329.66,672.26 L1331.70,670.56 L1333.74,668.85 L1335.78,667.13 L1337.83,665.41 L1339.87,663.69 L1341.91,661.96 L1343.95,660.22 L1345.99,658.47 L1348.03,656.72 L1350.07,654.96 L1352.11,653.20 L1354.15,651.43 L1356.19,649.66 L1358.23,647.88 L1360.27,646.09 L1362.32,644.30 L1364.36,642.50 L1366.40,640.70 L1368.44,638.89 L1370.48,637.07 L1372.52,635.25 L1374.56,633.42 L1376.60,631.59 L1378.64,629.75 L1380.68,627.91 L1382.72,626.05 L1384.76,624.20 L1386.80,622.34 L1388.85,620.47 L1390.89,618.60 L1392.93,616.72 L1394.97,614.83 L1397.01,612.94 L1399.05,611.05 L1401.09,609.14 L1403.13,607.24 L1405.17,605.32 L1407.21,603.41 L1409.25,601.48 L1411.29,599.55 L1413.34,597.62 L1415.38,595.68 L1417.42,593.73 L1419.46,591.78 L1421.50,589.82 L1423.54,587.86 L1425.58,585.89 L1427.62,583.92 L1429.66,581.94 L1431.70,579.96 L1433.74,577.97 L1435.78,575.98 L1437.82,573.98 L1439.87,571.97 L1441.91,569.96 L1443.95,567.94 L1445.99,565.92 L1448.03,563.90 L1450.07,561.87 L1452.11,559.83 L1454.15,557.79 L1456.19,555.74 L1458.23,553.69 L1460.27,551.63 L1462.31,549.57 L1464.36,547.50 L1466.40,545.43 L1468.44,543.35 L1470.48,541.27 L1472.52,539.18 L1474.56,537.09 L1476.60,534.99" fill="none" stroke="#000090" stroke-width="2.1" stroke-linejoin="round" stroke-linecap="butt"/><path d="M866.40,889.12 L868.44,889.12 L870.48,889.12 L872.52,889.10 L874.56,889.08 L876.60,889.05 L878.64,889.01 L880.69,888.97 L882.73,888.91 L884.77,888.85 L886.81,888.78 L888.85,888.70 L890.89,888.62 L892.93,888.53 L894.97,888.42 L897.01,888.32 L899.05,888.20 L901.09,888.08 L903.13,887.94 L905.18,887.81 L907.22,887.66 L909.26,887.51 L911.30,887.35 L913.34,887.18 L915.38,887.01 L917.42,886.82 L919.46,886.64 L921.50,886.44 L923.54,886.24 L925.58,886.03 L927.62,885.81 L929.66,885.59 L931.71,885.36 L933.75,885.13 L935.79,884.88 L937.83,884.64 L939.87,884.38 L941.91,884.12 L943.95,883.85 L945.99,883.58 L948.03,883.30 L950.07,883.01 L952.11,882.72 L954.15,882.42 L956.20,882.12 L958.24,881.81 L960.28,881.49 L962.32,881.17 L964.36,880.84 L966.40,880.51 L968.44,880.17 L970.48,879.83 L972.52,879.48 L974.56,879.13 L976.60,878.77 L978.64,878.40 L980.68,878.03 L982.73,877.66 L984.77,877.28 L986.81,876.89 L988.85,876.50 L990.89,876.10 L992.93,875.70 L994.97,875.30 L997.01,874.89 L999.05,874.47 L1001.09,874.05 L1003.13,873.63 L1005.17,873.20 L1007.22,872.77 L1009.26,872.33 L1011.30,871.89 L1013.34,871.44 L1015.38,870.99 L1017.42,870.54 L1019.46,870.08 L1021.50,869.62 L1023.54,869.15 L1025.58,868.68 L1027.62,868.21 L1029.66,867.73 L1031.71,867.25 L1033.75,866.76 L1035.79,866.27 L1037.83,865.78 L1039.87,865.29 L1041.91,864.79 L1043.95,864.28 L1045.99,863.78 L1048.03,863.27 L1050.07,862.75 L1052.11,862.24 L1054.15,861.72 L1056.19,861.20 L1058.24,860.67 L1060.28,860.14 L1062.32,859.61 L1064.36,859.08 L1066.40,858.54 L1068.44,858.00 L1070.48,857.46 L1072.52,856.91 L1074.56,856.37 L1076.60,855.81 L1078.64,855.26 L1080.68,854.70 L1082.73,854.14 L1084.77,853.58 L1086.81,853.01 L1088.85,852.44 L1090.89,851.87 L1092.93,851.29 L1094.97,850.71 L1097.01,850.13 L1099.05,849.54 L1101.09,848.95 L1103.13,848.36 L1105.17,847.76 L1107.21,847.16 L1109.26,846.55 L1111.30,845.94 L1113.34,845.33 L1115.38,844.71 L1117.42,844.09 L1119.46,843.46 L1121.50,842.83 L1123.54,842.19 L1125.58,841.55 L1127.62,840.91 L1129.66,840.26 L1131.70,839.61 L1133.75,838.95 L1135.79,838.29 L1137.83,837.63 L1139.87,836.95 L1141.91,836.28 L1143.95,835.60 L1145.99,834.91 L1148.03,834.22 L1150.07,833.53 L1152.11,832.83 L1154.15,832.12 L1156.19,831.41 L1158.23,830.69 L1160.28,829.97 L1162.32,829.25 L1164.36,828.51 L1166.40,827.78 L1168.44,827.03 L1170.48,826.28 L1172.52,825.53 L1174.56,824.77 L1176.60,824.00 L1178.64,823.23 L1180.68,822.46 L1182.72,821.67 L1184.77,820.88 L1186.81,820.09 L1188.85,819.29 L1190.89,818.48 L1192.93,817.67 L1194.97,816.85 L1197.01,816.02 L1199.05,815.19 L1201.09,814.35 L1203.13,813.51 L1205.17,812.66 L1207.21,811.80 L1209.25,810.94 L1211.30,810.07 L1213.34,809.19 L1215.38,808.31 L1217.42,807.42 L1219.46,806.53 L1221.50,805.63 L1223.54,804.72 L1225.58,803.81 L1227.62,802.89 L1229.66,801.97 L1231.70,801.04 L1233.74,800.10 L1235.79,799.15 L1237.83,798.20 L1239.87,797.25 L1241.91,796.29 L1243.95,795.32 L1245.99,794.34 L1248.03,793.36 L1250.07,792.37 L1252.11,791.38 L1254.15,790.38 L1256.19,789.37 L1258.23,788.36 L1260.27,787.34 L1262.32,786.31 L1264.36,785.28 L1266.40,784.24 L1268.44,783.19 L1270.48,782.14 L1272.52,781.08 L1274.56,780.02 L1276.60,778.94 L1278.64,777.87 L1280.68,776.78 L1282.72,775.69 L1284.76,774.59 L1286.81,773.49 L1288.85,772.38 L1290.89,771.26 L1292.93,770.14 L1294.97,769.01 L1297.01,767.87 L1299.05,766.73 L1301.09,765.58 L1303.13,764.42 L1305.17,763.26 L1307.21,762.09 L1309.25,760.92 L1311.29,759.73 L1313.34,758.54 L1315.38,757.35 L1317.42,756.15 L1319.46,754.94 L1321.50,753.72 L1323.54,752.50 L1325.58,751.27 L1327.62,750.03 L1329.66,748.79 L1331.70,747.54 L1333.74,746.28 L1335.78,745.02 L1337.83,743.75 L1339.87,742.48 L1341.91,741.19 L1343.95,739.90 L1345.99,738.61 L1348.03,737.30 L1350.07,735.99 L1352.11,734.68 L1354.15,733.35 L1356.19,732.02 L1358.23,730.69 L1360.27,729.34 L1362.32,727.99 L1364.36,726.63 L1366.40,725.27 L1368.44,723.90 L1370.48,722.52 L1372.52,721.13 L1374.56,719.74 L1376.60,718.34 L1378.64,716.94 L1380.68,715.53 L1382.72,714.11 L1384.76,712.68 L1386.80,711.25 L1388.85,709.81 L1390.89,708.36 L1392.93,706.90 L1394.97,705.44 L1397.01,703.97 L1399.05,702.50 L1401.09,701.02 L1403.13,699.53 L1405.17,698.03 L1407.21,696.53 L1409.25,695.02 L1411.29,693.50 L1413.34,691.98 L1415.38,690.44 L1417.42,688.91 L1419.46,687.36 L1421.50,685.81 L1423.54,684.25 L1425.58,682.68 L1427.62,681.11 L1429.66,679.53 L1431.70,677.94 L1433.74,676.34 L1435.78,674.74 L1437.82,673.13 L1439.87,671.51 L1441.91,669.89 L1443.95,668.26 L1445.99,666.62 L1448.03,664.97 L1450.07,663.32 L1452.11,661.66 L1454.15,659.99 L1456.19,658.32 L1458.23,656.64 L1460.27,654.95 L1462.31,653.25 L1464.36,651.55 L1466.40,649.84 L1468.44,648.12 L1470.48,646.39 L1472.52,644.66 L1474.56,642.92 L1476.60,641.17" fill="none" stroke="#920000" stroke-width="2.1" stroke-linejoin="round" stroke-linecap="butt"/><path d="M866.40,889.12 L868.44,889.11 L870.48,889.08 L872.53,889.06 L874.57,889.03 L876.61,888.99 L878.65,888.95 L880.69,888.90 L882.74,888.85 L884.78,888.80 L886.82,888.74 L888.86,888.67 L890.91,888.61 L892.95,888.53 L894.99,888.45 L897.03,888.37 L899.07,888.29 L901.12,888.19 L903.16,888.10 L905.20,888.00 L907.24,887.89 L909.28,887.79 L911.33,887.67 L913.37,887.56 L915.41,887.44 L917.45,887.31 L919.50,887.18 L921.54,887.05 L923.58,886.91 L925.62,886.77 L927.66,886.62 L929.71,886.47 L931.75,886.32 L933.79,886.16 L935.83,886.00 L937.87,885.84 L939.92,885.67 L941.96,885.50 L944.00,885.32 L946.04,885.14 L948.09,884.96 L950.13,884.77 L952.17,884.58 L954.21,884.39 L956.25,884.19 L958.30,883.99 L960.34,883.78 L962.38,883.57 L964.42,883.36 L966.46,883.15 L968.51,882.93 L970.55,882.71 L972.59,882.48 L974.63,882.25 L976.68,882.02 L978.72,881.79 L980.76,881.55 L982.80,881.31 L984.84,881.07 L986.89,880.82 L988.93,880.57 L990.97,880.32 L993.01,880.06 L995.05,879.80 L997.10,879.54 L999.14,879.28 L1001.18,879.01 L1003.22,878.74 L1005.27,878.47 L1007.31,878.19 L1009.35,877.91 L1011.39,877.63 L1013.43,877.35 L1015.48,877.06 L1017.52,876.77 L1019.56,876.48 L1021.60,876.19 L1023.64,875.89 L1025.69,875.59 L1027.73,875.29 L1029.77,874.99 L1031.81,874.68 L1033.86,874.37 L1035.90,874.06 L1037.94,873.75 L1039.98,873.44 L1042.02,873.12 L1044.07,872.80 L1046.11,872.48 L1048.15,872.16 L1050.19,871.83 L1052.23,871.50 L1054.28,871.17 L1056.32,870.84 L1058.36,870.51 L1060.40,870.17 L1062.45,869.84 L1064.49,869.50 L1066.53,869.16 L1068.57,868.82 L1070.61,868.47 L1072.66,868.13 L1074.70,867.78 L1076.74,867.43 L1078.78,867.08 L1080.82,866.72 L1082.87,866.37 L1084.91,866.01 L1086.95,865.65 L1088.99,865.28 L1091.04,864.92 L1093.08,864.55 L1095.12,864.18 L1097.16,863.81 L1099.20,863.43 L1101.25,863.05 L1103.29,862.67 L1105.33,862.29 L1107.37,861.90 L1109.41,861.51 L1111.46,861.12 L1113.50,860.73 L1115.54,860.33 L1117.58,859.93 L1119.63,859.53 L1121.67,859.12 L1123.71,858.71 L1125.75,858.30 L1127.79,857.88 L1129.84,857.46 L1131.88,857.04 L1133.92,856.61 L1135.96,856.18 L1138.00,855.75 L1140.05,855.31 L1142.09,854.87 L1144.13,854.42 L1146.17,853.97 L1148.22,853.52 L1150.26,853.07 L1152.30,852.61 L1154.34,852.14 L1156.38,851.67 L1158.43,851.20 L1160.47,850.73 L1162.51,850.24 L1164.55,849.76 L1166.59,849.27 L1168.64,848.78 L1170.68,848.28 L1172.72,847.78 L1174.76,847.27 L1176.81,846.76 L1178.85,846.25 L1180.89,845.73 L1182.93,845.20 L1184.97,844.67 L1187.02,844.14 L1189.06,843.60 L1191.10,843.05 L1193.14,842.50 L1195.18,841.95 L1197.23,841.39 L1199.27,840.83 L1201.31,840.26 L1203.35,839.68 L1205.40,839.10 L1207.44,838.52 L1209.48,837.93 L1211.52,837.33 L1213.56,836.73 L1215.61,836.12 L1217.65,835.51 L1219.69,834.89 L1221.73,834.27 L1223.77,833.64 L1225.82,833.01 L1227.86,832.37 L1229.90,831.72 L1231.94,831.07 L1233.99,830.41 L1236.03,829.75 L1238.07,829.08 L1240.11,828.41 L1242.15,827.73 L1244.20,827.04 L1246.24,826.35 L1248.28,825.65 L1250.32,824.95 L1252.36,824.24 L1254.41,823.53 L1256.45,822.81 L1258.49,822.08 L1260.53,821.35 L1262.58,820.62 L1264.62,819.87 L1266.66,819.12 L1268.70,818.37 L1270.74,817.61 L1272.79,816.85 L1274.83,816.07 L1276.87,815.30 L1278.91,814.51 L1280.95,813.73 L1283.00,812.93 L1285.04,812.13 L1287.08,811.33 L1289.12,810.51 L1291.17,809.70 L1293.21,808.87 L1295.25,808.04 L1297.29,807.21 L1299.33,806.37 L1301.38,805.52 L1303.42,804.67 L1305.46,803.81 L1307.50,802.94 L1309.54,802.07 L1311.59,801.20 L1313.63,800.31 L1315.67,799.43 L1317.71,798.53 L1319.76,797.63 L1321.80,796.73 L1323.84,795.81 L1325.88,794.90 L1327.92,793.97 L1329.97,793.04 L1332.01,792.11 L1334.05,791.17 L1336.09,790.22 L1338.13,789.27 L1340.18,788.31 L1342.22,787.34 L1344.26,786.37 L1346.30,785.39 L1348.35,784.41 L1350.39,783.42 L1352.43,782.42 L1354.47,781.42 L1356.51,780.41 L1358.56,779.40 L1360.60,778.38 L1362.64,777.35 L1364.68,776.32 L1366.72,775.28 L1368.77,774.24 L1370.81,773.19 L1372.85,772.13 L1374.89,771.07 L1376.94,770.00 L1378.98,768.92 L1381.02,767.84 L1383.06,766.76 L1385.10,765.66 L1387.15,764.56 L1389.19,763.46 L1391.23,762.35 L1393.27,761.23 L1395.31,760.10 L1397.36,758.97 L1399.40,757.84 L1401.44,756.70 L1403.48,755.55 L1405.53,754.39 L1407.57,753.23 L1409.61,752.06 L1411.65,750.89 L1413.69,749.71 L1415.74,748.52 L1417.78,747.33 L1419.82,746.13 L1421.86,744.93 L1423.90,743.71 L1425.95,742.50 L1427.99,741.27 L1430.03,740.04 L1432.07,738.81 L1434.12,737.56 L1436.16,736.31 L1438.20,735.06 L1440.24,733.80 L1442.28,732.53 L1444.33,731.25 L1446.37,729.97 L1448.41,728.68 L1450.45,727.39 L1452.49,726.09 L1454.54,724.78 L1456.58,723.47 L1458.62,722.15 L1460.66,720.83 L1462.71,719.49 L1464.75,718.16 L1466.79,716.81 L1468.83,715.46 L1470.87,714.10 L1472.92,712.74 L1474.96,711.37 L1477.00,709.99" fill="none" stroke="#009000" stroke-width="2.1" stroke-linejoin="round" stroke-linecap="butt"/><path d="M866.40,889.12 L868.44,889.12 L870.48,889.12 L872.53,889.11 L874.57,889.11 L876.61,889.10 L878.65,889.09 L880.69,889.08 L882.74,889.06 L884.78,889.04 L886.82,889.02 L888.86,889.00 L890.91,888.98 L892.95,888.95 L894.99,888.92 L897.03,888.89 L899.07,888.86 L901.12,888.82 L903.16,888.78 L905.20,888.74 L907.24,888.70 L909.28,888.65 L911.33,888.61 L913.37,888.55 L915.41,888.50 L917.45,888.45 L919.50,888.39 L921.54,888.33 L923.58,888.27 L925.62,888.20 L927.66,888.13 L929.71,888.06 L931.75,887.99 L933.79,887.92 L935.83,887.84 L937.87,887.76 L939.92,887.68 L941.96,887.59 L944.00,887.50 L946.04,887.41 L948.09,887.32 L950.13,887.23 L952.17,887.13 L954.21,887.03 L956.25,886.93 L958.30,886.82 L960.34,886.71 L962.38,886.60 L964.42,886.49 L966.46,886.38 L968.51,886.26 L970.55,886.14 L972.59,886.01 L974.63,885.89 L976.68,885.76 L978.72,885.63 L980.76,885.50 L982.80,885.36 L984.84,885.22 L986.89,885.08 L988.93,884.94 L990.97,884.79 L993.01,884.64 L995.05,884.49 L997.10,884.33 L999.14,884.18 L1001.18,884.02 L1003.22,883.85 L1005.27,883.69 L1007.31,883.52 L1009.35,883.35 L1011.39,883.18 L1013.43,883.00 L1015.48,882.82 L1017.52,882.64 L1019.56,882.46 L1021.60,882.27 L1023.64,882.08 L1025.69,881.89 L1027.73,881.70 L1029.77,881.50 L1031.81,881.30 L1033.86,881.09 L1035.90,880.89 L1037.94,880.68 L1039.98,880.47 L1042.02,880.25 L1044.07,880.04 L1046.11,879.82 L1048.15,879.59 L1050.19,879.37 L1052.23,879.14 L1054.28,878.91 L1056.32,878.68 L1058.36,878.44 L1060.40,878.20 L1062.45,877.96 L1064.49,877.71 L1066.53,877.46 L1068.57,877.21 L1070.61,876.96 L1072.66,876.70 L1074.70,876.44 L1076.74,876.18 L1078.78,875.92 L1080.82,875.65 L1082.87,875.38 L1084.91,875.10 L1086.95,874.83 L1088.99,874.55 L1091.04,874.26 L1093.08,873.98 L1095.12,873.69 L1097.16,873.40 L1099.20,873.10 L1101.25,872.81 L1103.29,872.51 L1105.33,872.20 L1107.37,871.90 L1109.41,871.59 L1111.46,871.28 L1113.50,870.96 L1115.54,870.64 L1117.58,870.32 L1119.63,870.00 L1121.67,869.67 L1123.71,869.34 L1125.75,869.01 L1127.79,868.67 L1129.84,868.33 L1131.88,867.99 L1133.92,867.65 L1135.96,867.30 L1138.00,866.95 L1140.05,866.59 L1142.09,866.23 L1144.13,865.87 L1146.17,865.51 L1148.22,865.14 L1150.26,864.77 L1152.30,864.40 L1154.34,864.03 L1156.38,863.65 L1158.43,863.26 L1160.47,862.88 L1162.51,862.49 L1164.55,862.10 L1166.59,861.70 L1168.64,861.31 L1170.68,860.91 L1172.72,860.50 L1174.76,860.09 L1176.81,859.68 L1178.85,859.27 L1180.89,858.85 L1182.93,858.43 L1184.97,858.01 L1187.02,857.59 L1189.06,857.16 L1191.10,856.72 L1193.14,856.29 L1195.18,855.85 L1197.23,855.41 L1199.27,854.96 L1201.31,854.51 L1203.35,854.06 L1205.40,853.61 L1207.44,853.15 L1209.48,852.69 L1211.52,852.22 L1213.56,851.75 L1215.61,851.28 L1217.65,850.81 L1219.69,850.33 L1221.73,849.85 L1223.77,849.36 L1225.82,848.88 L1227.86,848.38 L1229.90,847.89 L1231.94,847.39 L1233.99,846.89 L1236.03,846.38 L1238.07,845.88 L1240.11,845.36 L1242.15,844.85 L1244.20,844.33 L1246.24,843.81 L1248.28,843.28 L1250.32,842.75 L1252.36,842.22 L1254.41,841.68 L1256.45,841.14 L1258.49,840.59 L1260.53,840.04 L1262.58,839.49 L1264.62,838.93 L1266.66,838.37 L1268.70,837.81 L1270.74,837.24 L1272.79,836.67 L1274.83,836.09 L1276.87,835.51 L1278.91,834.93 L1280.95,834.34 L1283.00,833.75 L1285.04,833.15 L1287.08,832.55 L1289.12,831.95 L1291.17,831.34 L1293.21,830.73 L1295.25,830.11 L1297.29,829.49 L1299.33,828.86 L1301.38,828.23 L1303.42,827.60 L1305.46,826.96 L1307.50,826.32 L1309.54,825.67 L1311.59,825.02 L1313.63,824.37 L1315.67,823.71 L1317.71,823.04 L1319.76,822.37 L1321.80,821.70 L1323.84,821.02 L1325.88,820.34 L1327.92,819.65 L1329.97,818.96 L1332.01,818.26 L1334.05,817.56 L1336.09,816.86 L1338.13,816.15 L1340.18,815.43 L1342.22,814.71 L1344.26,813.99 L1346.30,813.26 L1348.35,812.52 L1350.39,811.78 L1352.43,811.04 L1354.47,810.29 L1356.51,809.54 L1358.56,808.78 L1360.60,808.01 L1362.64,807.24 L1364.68,806.47 L1366.72,805.69 L1368.77,804.91 L1370.81,804.12 L1372.85,803.32 L1374.89,802.53 L1376.94,801.72 L1378.98,800.91 L1381.02,800.10 L1383.06,799.28 L1385.10,798.45 L1387.15,797.62 L1389.19,796.78 L1391.23,795.94 L1393.27,795.10 L1395.31,794.25 L1397.36,793.39 L1399.40,792.53 L1401.44,791.66 L1403.48,790.78 L1405.53,789.90 L1407.57,789.02 L1409.61,788.13 L1411.65,787.23 L1413.69,786.33 L1415.74,785.42 L1417.78,784.51 L1419.82,783.59 L1421.86,782.67 L1423.90,781.74 L1425.95,780.80 L1427.99,779.86 L1430.03,778.92 L1432.07,777.96 L1434.12,777.00 L1436.16,776.04 L1438.20,775.07 L1440.24,774.09 L1442.28,773.11 L1444.33,772.12 L1446.37,771.13 L1448.41,770.13 L1450.45,769.12 L1452.49,768.11 L1454.54,767.09 L1456.58,766.06 L1458.62,765.03 L1460.66,764.00 L1462.71,762.95 L1464.75,761.90 L1466.79,760.85 L1468.83,759.79 L1470.87,758.72 L1472.92,757.64 L1474.96,756.56 L1477.00,755.48" fill="none" stroke="#f68a1e" stroke-width="2.1" stroke-linejoin="round" stroke-linecap="butt"/><line x1="853.9" y1="515.2" x2="853.9" y2="909.9" stroke="#000" stroke-width="2"/><line x1="852.9" y1="908.9" x2="1490.3" y2="908.9" stroke="#000" stroke-width="2"/><line x1="853.9" y1="889.20" x2="856.9" y2="889.20" stroke="#000" stroke-width="1"/><line x1="853.9" y1="810.00" x2="856.9" y2="810.00" stroke="#000" stroke-width="1"/><line x1="853.9" y1="730.80" x2="856.9" y2="730.80" stroke="#000" stroke-width="1"/><line x1="853.9" y1="651.60" x2="856.9" y2="651.60" stroke="#000" stroke-width="1"/><line x1="853.9" y1="572.40" x2="856.9" y2="572.40" stroke="#000" stroke-width="1"/><line x1="866.40" y1="908.9" x2="866.40" y2="905.9" stroke="#000" stroke-width="1"/><line x1="1019.00" y1="908.9" x2="1019.00" y2="905.9" stroke="#000" stroke-width="1"/><line x1="1171.60" y1="908.9" x2="1171.60" y2="905.9" stroke="#000" stroke-width="1"/><line x1="1324.20" y1="908.9" x2="1324.20" y2="905.9" stroke="#000" stroke-width="1"/><line x1="1476.80" y1="908.9" x2="1476.80" y2="905.9" stroke="#000" stroke-width="1"/><text x="849.00" y="897.60" font-family='"Liberation Sans", sans-serif' font-size="25" text-anchor="end">0.0</text><text x="849.00" y="818.40" font-family='"Liberation Sans", sans-serif' font-size="25" text-anchor="end">0.1</text><text x="849.00" y="739.20" font-family='"Liberation Sans", sans-serif' font-size="25" text-anchor="end">0.2</text><text x="849.00" y="660.00" font-family='"Liberation Sans", sans-serif' font-size="25" text-anchor="end">0.3</text><text x="849.00" y="580.80" font-family='"Liberation Sans", sans-serif' font-size="25" text-anchor="end">0.4</text><text x="866.40" y="935.8" font-family='"Liberation Sans", sans-serif' font-size="25" text-anchor="middle">0.0</text><text x="1019.00" y="935.8" font-family='"Liberation Sans", sans-serif' font-size="25" text-anchor="middle">0.2</text><text x="1171.60" y="935.8" font-family='"Liberation Sans", sans-serif' font-size="25" text-anchor="middle">0.4</text><text x="1324.20" y="935.8" font-family='"Liberation Sans", sans-serif' font-size="25" text-anchor="middle">0.6</text><text x="1476.80" y="935.8" font-family='"Liberation Sans", sans-serif' font-size="25" text-anchor="middle">0.8</text><text x="884.00" y="630.4" font-family='"Liberation Serif", serif' font-size="28.6" style="word-spacing:1.04px"><tspan>Ha = 1, K = 1, </tspan><tspan font-style="italic">L</tspan><tspan> = 0.05, </tspan><tspan font-style="italic">S</tspan><tspan font-style="italic" font-size="21.45" dy="4.86">p</tspan><tspan dy="-4.86"> = 0.5</tspan></text><rect x="943.0" y="679.3" width="126.20" height="148.70" rx="6" fill="#fff" stroke="#5c5c5c" stroke-width="1.2"/><rect x="957.5" y="700.6" width="12" height="12" fill="#000099" stroke="#00005a" stroke-width="1"/><text x="981.30" y="711.7" font-family='"Liberation Serif", serif' font-size="27.4" style="word-spacing:2.40px"><tspan font-style="italic">R</tspan><tspan font-style="italic" font-size="20.55" dy="4.66">n</tspan><tspan dy="-4.66"> = 2</tspan></text><rect x="957.5" y="733.3" width="12" height="12" fill="#990000" stroke="#5a0000" stroke-width="1"/><text x="981.30" y="744.6" font-family='"Liberation Serif", serif' font-size="27.4" style="word-spacing:2.15px"><tspan font-style="italic">R</tspan><tspan font-style="italic" font-size="20.55" dy="4.66">n</tspan><tspan dy="-4.66"> = 3</tspan></text><rect x="957.5" y="765.7" width="12" height="12" fill="#009900" stroke="#005a00" stroke-width="1"/><text x="981.30" y="776.6" font-family='"Liberation Serif", serif' font-size="27.4" style="word-spacing:2.15px"><tspan font-style="italic">R</tspan><tspan font-style="italic" font-size="20.55" dy="4.66">n</tspan><tspan dy="-4.66"> = 4</tspan></text><rect x="957.5" y="798.0" width="12" height="12" fill="#ff8000" stroke="#b35a00" stroke-width="1"/><text x="981.30" y="809" font-family='"Liberation Serif", serif' font-size="27.4" style="word-spacing:1.90px"><tspan font-style="italic">R</tspan><tspan font-style="italic" font-size="20.55" dy="4.66">n</tspan><tspan dy="-4.66"> = 5</tspan></text><line x1="1075.3" y1="766.1" x2="1149.18" y2="877.39" stroke="#580204" stroke-width="2"/><path d="M1161.4,895.8 L1143.04,879.54 L1149.18,877.39 L1153.54,872.57 Z" fill="#580204"/><text x="1172.00" y="968.74" font-family='"Liberation Serif", serif' font-size="27.81" font-style="italic" text-anchor="middle">y</text><text transform="translate(805.20,712.10) rotate(-90)" font-family='"Liberation Serif", serif' font-size="30.52" font-style="italic" text-anchor="middle">Be</text><text x="1174.55" y="1029.40" font-family='"Liberation Serif", serif' font-size="40.49" font-weight="bold" text-anchor="middle">(d)</text></g><g><path d="M467.60,1443.17 L469.63,1443.17 L471.65,1443.15 L473.68,1443.13 L475.70,1443.09 L477.73,1443.04 L479.76,1442.98 L481.78,1442.91 L483.81,1442.83 L485.83,1442.74 L487.86,1442.64 L489.89,1442.54 L491.91,1442.42 L493.94,1442.29 L495.97,1442.15 L497.99,1442.01 L500.02,1441.85 L502.04,1441.69 L504.07,1441.52 L506.10,1441.34 L508.12,1441.15 L510.15,1440.96 L512.17,1440.75 L514.20,1440.54 L516.23,1440.32 L518.25,1440.10 L520.28,1439.87 L522.30,1439.63 L524.33,1439.38 L526.36,1439.13 L528.38,1438.87 L530.41,1438.61 L532.43,1438.34 L534.46,1438.06 L536.49,1437.78 L538.51,1437.49 L540.54,1437.20 L542.57,1436.90 L544.59,1436.60 L546.62,1436.29 L548.64,1435.98 L550.67,1435.66 L552.70,1435.34 L554.72,1435.02 L556.75,1434.69 L558.77,1434.36 L560.80,1434.03 L562.83,1433.69 L564.85,1433.35 L566.88,1433.00 L568.90,1432.66 L570.93,1432.31 L572.96,1431.95 L574.98,1431.60 L577.01,1431.24 L579.03,1430.89 L581.06,1430.53 L583.09,1430.16 L585.11,1429.80 L587.14,1429.43 L589.17,1429.06 L591.19,1428.69 L593.22,1428.32 L595.24,1427.94 L597.27,1427.56 L599.30,1427.18 L601.32,1426.80 L603.35,1426.41 L605.37,1426.03 L607.40,1425.63 L609.43,1425.24 L611.45,1424.84 L613.48,1424.45 L615.50,1424.04 L617.53,1423.64 L619.56,1423.23 L621.58,1422.82 L623.61,1422.41 L625.63,1421.99 L627.66,1421.58 L629.69,1421.15 L631.71,1420.73 L633.74,1420.30 L635.77,1419.87 L637.79,1419.44 L639.82,1419.00 L641.84,1418.56 L643.87,1418.11 L645.90,1417.67 L647.92,1417.22 L649.95,1416.76 L651.97,1416.31 L654.00,1415.85 L656.03,1415.38 L658.05,1414.91 L660.08,1414.44 L662.10,1413.97 L664.13,1413.49 L666.16,1413.01 L668.18,1412.52 L670.21,1412.03 L672.23,1411.54 L674.26,1411.04 L676.29,1410.54 L678.31,1410.04 L680.34,1409.53 L682.37,1409.02 L684.39,1408.50 L686.42,1407.98 L688.44,1407.45 L690.47,1406.93 L692.50,1406.39 L694.52,1405.86 L696.55,1405.31 L698.57,1404.77 L700.60,1404.22 L702.63,1403.67 L704.65,1403.11 L706.68,1402.54 L708.70,1401.98 L710.73,1401.40 L712.76,1400.83 L714.78,1400.25 L716.81,1399.66 L718.83,1399.07 L720.86,1398.48 L722.89,1397.88 L724.91,1397.27 L726.94,1396.66 L728.97,1396.05 L730.99,1395.43 L733.02,1394.81 L735.04,1394.18 L737.07,1393.55 L739.10,1392.91 L741.12,1392.26 L743.15,1391.62 L745.17,1390.96 L747.20,1390.30 L749.23,1389.64 L751.25,1388.97 L753.28,1388.30 L755.30,1387.62 L757.33,1386.93 L759.36,1386.24 L761.38,1385.54 L763.41,1384.84 L765.43,1384.14 L767.46,1383.43 L769.49,1382.71 L771.51,1381.98 L773.54,1381.26 L775.57,1380.52 L777.59,1379.78 L779.62,1379.04 L781.64,1378.29 L783.67,1377.53 L785.70,1376.77 L787.72,1376.00 L789.75,1375.23 L791.77,1374.45 L793.80,1373.66 L795.83,1372.87 L797.85,1372.08 L799.88,1371.27 L801.90,1370.47 L803.93,1369.65 L805.96,1368.83 L807.98,1368.00 L810.01,1367.17 L812.03,1366.33 L814.06,1365.49 L816.09,1364.64 L818.11,1363.78 L820.14,1362.92 L822.17,1362.05 L824.19,1361.18 L826.22,1360.30 L828.24,1359.41 L830.27,1358.52 L832.30,1357.62 L834.32,1356.71 L836.35,1355.80 L838.37,1354.88 L840.40,1353.95 L842.43,1353.02 L844.45,1352.08 L846.48,1351.14 L848.50,1350.19 L850.53,1349.23 L852.56,1348.27 L854.58,1347.30 L856.61,1346.32 L858.63,1345.34 L860.66,1344.35 L862.69,1343.35 L864.71,1342.34 L866.74,1341.33 L868.77,1340.32 L870.79,1339.29 L872.82,1338.26 L874.84,1337.22 L876.87,1336.18 L878.90,1335.13 L880.92,1334.07 L882.95,1333.01 L884.97,1331.93 L887.00,1330.85 L889.03,1329.77 L891.05,1328.68 L893.08,1327.57 L895.10,1326.47 L897.13,1325.35 L899.16,1324.23 L901.18,1323.10 L903.21,1321.97 L905.23,1320.82 L907.26,1319.67 L909.29,1318.52 L911.31,1317.35 L913.34,1316.18 L915.37,1315.00 L917.39,1313.81 L919.42,1312.62 L921.44,1311.41 L923.47,1310.21 L925.50,1308.99 L927.52,1307.76 L929.55,1306.53 L931.57,1305.29 L933.60,1304.05 L935.63,1302.79 L937.65,1301.53 L939.68,1300.26 L941.70,1298.98 L943.73,1297.70 L945.76,1296.40 L947.78,1295.10 L949.81,1293.79 L951.83,1292.48 L953.86,1291.15 L955.89,1289.82 L957.91,1288.48 L959.94,1287.13 L961.97,1285.78 L963.99,1284.41 L966.02,1283.04 L968.04,1281.66 L970.07,1280.27 L972.10,1278.88 L974.12,1277.47 L976.15,1276.06 L978.17,1274.64 L980.20,1273.21 L982.23,1271.77 L984.25,1270.33 L986.28,1268.87 L988.30,1267.41 L990.33,1265.94 L992.36,1264.46 L994.38,1262.98 L996.41,1261.48 L998.43,1259.98 L1000.46,1258.46 L1002.49,1256.94 L1004.51,1255.41 L1006.54,1253.88 L1008.57,1252.33 L1010.59,1250.77 L1012.62,1249.21 L1014.64,1247.64 L1016.67,1246.06 L1018.70,1244.47 L1020.72,1242.87 L1022.75,1241.26 L1024.77,1239.65 L1026.80,1238.02 L1028.83,1236.39 L1030.85,1234.75 L1032.88,1233.10 L1034.90,1231.44 L1036.93,1229.77 L1038.96,1228.09 L1040.98,1226.40 L1043.01,1224.71 L1045.03,1223.00 L1047.06,1221.29 L1049.09,1219.56 L1051.11,1217.83 L1053.14,1216.09 L1055.17,1214.34 L1057.19,1212.58 L1059.22,1210.81 L1061.24,1209.03 L1063.27,1207.25 L1065.30,1205.45 L1067.32,1203.64 L1069.35,1201.83 L1071.37,1200.00 L1073.40,1198.17" fill="none" stroke="#000090" stroke-width="2.1" stroke-linejoin="round" stroke-linecap="butt"/><path d="M467.60,1443.18 L469.63,1443.17 L471.65,1443.14 L473.68,1443.09 L475.70,1443.02 L477.73,1442.94 L479.76,1442.83 L481.78,1442.72 L483.81,1442.58 L485.83,1442.43 L487.86,1442.26 L489.89,1442.07 L491.91,1441.87 L493.94,1441.66 L495.97,1441.42 L497.99,1441.18 L500.02,1440.92 L502.04,1440.64 L504.07,1440.35 L506.10,1440.05 L508.12,1439.74 L510.15,1439.41 L512.17,1439.07 L514.20,1438.72 L516.23,1438.35 L518.25,1437.97 L520.28,1437.58 L522.30,1437.18 L524.33,1436.77 L526.36,1436.35 L528.38,1435.92 L530.41,1435.48 L532.43,1435.03 L534.46,1434.57 L536.49,1434.10 L538.51,1433.62 L540.54,1433.14 L542.57,1432.64 L544.59,1432.14 L546.62,1431.63 L548.64,1431.11 L550.67,1430.59 L552.70,1430.06 L554.72,1429.52 L556.75,1428.98 L558.77,1428.43 L560.80,1427.87 L562.83,1427.31 L564.85,1426.75 L566.88,1426.18 L568.90,1425.61 L570.93,1425.03 L572.96,1424.45 L574.98,1423.87 L577.01,1423.28 L579.03,1422.69 L581.06,1422.10 L583.09,1421.50 L585.11,1420.90 L587.14,1420.30 L589.17,1419.70 L591.19,1419.09 L593.22,1418.48 L595.24,1417.86 L597.27,1417.25 L599.30,1416.63 L601.32,1416.00 L603.35,1415.38 L605.37,1414.75 L607.40,1414.12 L609.43,1413.48 L611.45,1412.84 L613.48,1412.20 L615.50,1411.56 L617.53,1410.91 L619.56,1410.26 L621.58,1409.61 L623.61,1408.95 L625.63,1408.29 L627.66,1407.63 L629.69,1406.96 L631.71,1406.30 L633.74,1405.62 L635.77,1404.95 L637.79,1404.27 L639.82,1403.59 L641.84,1402.91 L643.87,1402.22 L645.90,1401.53 L647.92,1400.84 L649.95,1400.14 L651.97,1399.44 L654.00,1398.74 L656.03,1398.04 L658.05,1397.33 L660.08,1396.62 L662.10,1395.90 L664.13,1395.19 L666.16,1394.47 L668.18,1393.74 L670.21,1393.02 L672.23,1392.29 L674.26,1391.55 L676.29,1390.82 L678.31,1390.08 L680.34,1389.34 L682.37,1388.59 L684.39,1387.85 L686.42,1387.09 L688.44,1386.34 L690.47,1385.58 L692.50,1384.82 L694.52,1384.06 L696.55,1383.29 L698.57,1382.52 L700.60,1381.75 L702.63,1380.98 L704.65,1380.20 L706.68,1379.42 L708.70,1378.63 L710.73,1377.84 L712.76,1377.05 L714.78,1376.26 L716.81,1375.46 L718.83,1374.66 L720.86,1373.86 L722.89,1373.05 L724.91,1372.24 L726.94,1371.43 L728.97,1370.62 L730.99,1369.80 L733.02,1368.98 L735.04,1368.15 L737.07,1367.32 L739.10,1366.49 L741.12,1365.66 L743.15,1364.82 L745.17,1363.98 L747.20,1363.14 L749.23,1362.29 L751.25,1361.44 L753.28,1360.59 L755.30,1359.73 L757.33,1358.87 L759.36,1358.01 L761.38,1357.15 L763.41,1356.28 L765.43,1355.40 L767.46,1354.53 L769.49,1353.65 L771.51,1352.77 L773.54,1351.88 L775.57,1350.99 L777.59,1350.10 L779.62,1349.20 L781.64,1348.30 L783.67,1347.39 L785.70,1346.48 L787.72,1345.57 L789.75,1344.65 L791.77,1343.73 L793.80,1342.81 L795.83,1341.88 L797.85,1340.95 L799.88,1340.01 L801.90,1339.07 L803.93,1338.12 L805.96,1337.17 L807.98,1336.22 L810.01,1335.26 L812.03,1334.29 L814.06,1333.33 L816.09,1332.35 L818.11,1331.38 L820.14,1330.40 L822.17,1329.41 L824.19,1328.42 L826.22,1327.42 L828.24,1326.42 L830.27,1325.42 L832.30,1324.41 L834.32,1323.39 L836.35,1322.37 L838.37,1321.34 L840.40,1320.31 L842.43,1319.28 L844.45,1318.24 L846.48,1317.19 L848.50,1316.14 L850.53,1315.08 L852.56,1314.02 L854.58,1312.95 L856.61,1311.88 L858.63,1310.80 L860.66,1309.72 L862.69,1308.63 L864.71,1307.53 L866.74,1306.43 L868.77,1305.32 L870.79,1304.21 L872.82,1303.09 L874.84,1301.97 L876.87,1300.84 L878.90,1299.70 L880.92,1298.56 L882.95,1297.41 L884.97,1296.26 L887.00,1295.10 L889.03,1293.93 L891.05,1292.76 L893.08,1291.58 L895.10,1290.39 L897.13,1289.20 L899.16,1288.00 L901.18,1286.80 L903.21,1285.59 L905.23,1284.37 L907.26,1283.14 L909.29,1281.91 L911.31,1280.67 L913.34,1279.43 L915.37,1278.18 L917.39,1276.92 L919.42,1275.65 L921.44,1274.38 L923.47,1273.10 L925.50,1271.82 L927.52,1270.52 L929.55,1269.22 L931.57,1267.92 L933.60,1266.60 L935.63,1265.28 L937.65,1263.95 L939.68,1262.61 L941.70,1261.27 L943.73,1259.92 L945.76,1258.56 L947.78,1257.19 L949.81,1255.82 L951.83,1254.44 L953.86,1253.05 L955.89,1251.65 L957.91,1250.24 L959.94,1248.83 L961.97,1247.41 L963.99,1245.98 L966.02,1244.55 L968.04,1243.10 L970.07,1241.65 L972.10,1240.20 L974.12,1238.73 L976.15,1237.26 L978.17,1235.79 L980.20,1234.30 L982.23,1232.81 L984.25,1231.32 L986.28,1229.82 L988.30,1228.31 L990.33,1226.80 L992.36,1225.28 L994.38,1223.76 L996.41,1222.23 L998.43,1220.70 L1000.46,1219.16 L1002.49,1217.62 L1004.51,1216.08 L1006.54,1214.53 L1008.57,1212.97 L1010.59,1211.42 L1012.62,1209.86 L1014.64,1208.29 L1016.67,1206.73 L1018.70,1205.16 L1020.72,1203.59 L1022.75,1202.01 L1024.77,1200.43 L1026.80,1198.85 L1028.83,1197.27 L1030.85,1195.69 L1032.88,1194.10 L1034.90,1192.52 L1036.93,1190.93 L1038.96,1189.34 L1040.98,1187.75 L1043.01,1186.16 L1045.03,1184.56 L1047.06,1182.97 L1049.09,1181.38 L1051.11,1179.79 L1053.14,1178.19 L1055.17,1176.60 L1057.19,1175.01 L1059.22,1173.41 L1061.24,1171.82 L1063.27,1170.23 L1065.30,1168.64 L1067.32,1167.05 L1069.35,1165.47 L1071.37,1163.88 L1073.40,1162.30" fill="none" stroke="#920000" stroke-width="2.1" stroke-linejoin="round" stroke-linecap="butt"/><path d="M467.60,1443.18 L469.63,1443.16 L471.65,1443.12 L473.68,1443.05 L475.70,1442.95 L477.73,1442.82 L479.76,1442.67 L481.78,1442.48 L483.81,1442.28 L485.83,1442.05 L487.86,1441.79 L489.89,1441.51 L491.91,1441.20 L493.94,1440.87 L495.97,1440.52 L497.99,1440.15 L500.02,1439.75 L502.04,1439.34 L504.07,1438.90 L506.10,1438.44 L508.12,1437.96 L510.15,1437.46 L512.17,1436.95 L514.20,1436.41 L516.23,1435.86 L518.25,1435.28 L520.28,1434.70 L522.30,1434.09 L524.33,1433.47 L526.36,1432.83 L528.38,1432.18 L530.41,1431.52 L532.43,1430.84 L534.46,1430.14 L536.49,1429.43 L538.51,1428.71 L540.54,1427.98 L542.57,1427.24 L544.59,1426.48 L546.62,1425.72 L548.64,1424.94 L550.67,1424.16 L552.70,1423.36 L554.72,1422.56 L556.75,1421.75 L558.77,1420.93 L560.80,1420.10 L562.83,1419.26 L564.85,1418.42 L566.88,1417.58 L568.90,1416.73 L570.93,1415.87 L572.96,1415.01 L574.98,1414.14 L577.01,1413.28 L579.03,1412.40 L581.06,1411.53 L583.09,1410.65 L585.11,1409.77 L587.14,1408.88 L589.17,1408.00 L591.19,1407.11 L593.22,1406.21 L595.24,1405.31 L597.27,1404.41 L599.30,1403.51 L601.32,1402.60 L603.35,1401.70 L605.37,1400.78 L607.40,1399.87 L609.43,1398.95 L611.45,1398.03 L613.48,1397.11 L615.50,1396.18 L617.53,1395.25 L619.56,1394.32 L621.58,1393.39 L623.61,1392.45 L625.63,1391.52 L627.66,1390.57 L629.69,1389.63 L631.71,1388.69 L633.74,1387.74 L635.77,1386.79 L637.79,1385.84 L639.82,1384.88 L641.84,1383.92 L643.87,1382.96 L645.90,1382.00 L647.92,1381.04 L649.95,1380.08 L651.97,1379.11 L654.00,1378.14 L656.03,1377.17 L658.05,1376.20 L660.08,1375.22 L662.10,1374.25 L664.13,1373.27 L666.16,1372.29 L668.18,1371.31 L670.21,1370.32 L672.23,1369.34 L674.26,1368.35 L676.29,1367.36 L678.31,1366.38 L680.34,1365.39 L682.37,1364.39 L684.39,1363.40 L686.42,1362.41 L688.44,1361.41 L690.47,1360.41 L692.50,1359.41 L694.52,1358.42 L696.55,1357.41 L698.57,1356.41 L700.60,1355.41 L702.63,1354.41 L704.65,1353.40 L706.68,1352.40 L708.70,1351.39 L710.73,1350.38 L712.76,1349.38 L714.78,1348.37 L716.81,1347.36 L718.83,1346.35 L720.86,1345.34 L722.89,1344.33 L724.91,1343.31 L726.94,1342.30 L728.97,1341.29 L730.99,1340.28 L733.02,1339.26 L735.04,1338.25 L737.07,1337.23 L739.10,1336.22 L741.12,1335.20 L743.15,1334.19 L745.17,1333.17 L747.20,1332.16 L749.23,1331.14 L751.25,1330.13 L753.28,1329.11 L755.30,1328.10 L757.33,1327.08 L759.36,1326.06 L761.38,1325.05 L763.41,1324.03 L765.43,1323.01 L767.46,1321.99 L769.49,1320.97 L771.51,1319.95 L773.54,1318.93 L775.57,1317.91 L777.59,1316.89 L779.62,1315.87 L781.64,1314.84 L783.67,1313.82 L785.70,1312.79 L787.72,1311.76 L789.75,1310.73 L791.77,1309.70 L793.80,1308.67 L795.83,1307.63 L797.85,1306.60 L799.88,1305.56 L801.90,1304.52 L803.93,1303.48 L805.96,1302.43 L807.98,1301.39 L810.01,1300.34 L812.03,1299.29 L814.06,1298.24 L816.09,1297.18 L818.11,1296.13 L820.14,1295.07 L822.17,1294.00 L824.19,1292.94 L826.22,1291.87 L828.24,1290.80 L830.27,1289.73 L832.30,1288.65 L834.32,1287.57 L836.35,1286.49 L838.37,1285.40 L840.40,1284.31 L842.43,1283.22 L844.45,1282.12 L846.48,1281.03 L848.50,1279.92 L850.53,1278.82 L852.56,1277.71 L854.58,1276.59 L856.61,1275.47 L858.63,1274.35 L860.66,1273.23 L862.69,1272.10 L864.71,1270.96 L866.74,1269.83 L868.77,1268.68 L870.79,1267.54 L872.82,1266.38 L874.84,1265.23 L876.87,1264.07 L878.90,1262.90 L880.92,1261.73 L882.95,1260.56 L884.97,1259.38 L887.00,1258.20 L889.03,1257.01 L891.05,1255.81 L893.08,1254.61 L895.10,1253.41 L897.13,1252.20 L899.16,1250.98 L901.18,1249.76 L903.21,1248.53 L905.23,1247.30 L907.26,1246.06 L909.29,1244.82 L911.31,1243.57 L913.34,1242.32 L915.37,1241.05 L917.39,1239.79 L919.42,1238.51 L921.44,1237.23 L923.47,1235.95 L925.50,1234.66 L927.52,1233.36 L929.55,1232.05 L931.57,1230.74 L933.60,1229.42 L935.63,1228.10 L937.65,1226.76 L939.68,1225.42 L941.70,1224.08 L943.73,1222.73 L945.76,1221.37 L947.78,1220.00 L949.81,1218.62 L951.83,1217.24 L953.86,1215.85 L955.89,1214.46 L957.91,1213.05 L959.94,1211.64 L961.97,1210.22 L963.99,1208.79 L966.02,1207.36 L968.04,1205.92 L970.07,1204.47 L972.10,1203.02 L974.12,1201.56 L976.15,1200.09 L978.17,1198.62 L980.20,1197.14 L982.23,1195.66 L984.25,1194.17 L986.28,1192.67 L988.30,1191.18 L990.33,1189.67 L992.36,1188.17 L994.38,1186.66 L996.41,1185.14 L998.43,1183.63 L1000.46,1182.11 L1002.49,1180.58 L1004.51,1179.06 L1006.54,1177.53 L1008.57,1176.00 L1010.59,1174.47 L1012.62,1172.93 L1014.64,1171.40 L1016.67,1169.86 L1018.70,1168.32 L1020.72,1166.78 L1022.75,1165.24 L1024.77,1163.71 L1026.80,1162.17 L1028.83,1160.63 L1030.85,1159.09 L1032.88,1157.55 L1034.90,1156.01 L1036.93,1154.48 L1038.96,1152.94 L1040.98,1151.41 L1043.01,1149.88 L1045.03,1148.35 L1047.06,1146.82 L1049.09,1145.30 L1051.11,1143.77 L1053.14,1142.26 L1055.17,1140.74 L1057.19,1139.23 L1059.22,1137.72 L1061.24,1136.22 L1063.27,1134.72 L1065.30,1133.22 L1067.32,1131.73 L1069.35,1130.25 L1071.37,1128.77 L1073.40,1127.29" fill="none" stroke="#009000" stroke-width="2.1" stroke-linejoin="round" stroke-linecap="butt"/><path d="M467.60,1443.20 L469.63,1443.19 L471.65,1443.13 L473.68,1443.04 L475.70,1442.90 L477.73,1442.72 L479.76,1442.50 L481.78,1442.24 L483.81,1441.94 L485.83,1441.61 L487.86,1441.24 L489.89,1440.83 L491.91,1440.39 L493.94,1439.91 L495.97,1439.40 L497.99,1438.86 L500.02,1438.29 L502.04,1437.68 L504.07,1437.05 L506.10,1436.38 L508.12,1435.69 L510.15,1434.97 L512.17,1434.22 L514.20,1433.44 L516.23,1432.64 L518.25,1431.82 L520.28,1430.97 L522.30,1430.10 L524.33,1429.20 L526.36,1428.29 L528.38,1427.35 L530.41,1426.40 L532.43,1425.42 L534.46,1424.43 L536.49,1423.41 L538.51,1422.39 L540.54,1421.34 L542.57,1420.28 L544.59,1419.21 L546.62,1418.12 L548.64,1417.02 L550.67,1415.91 L552.70,1414.78 L554.72,1413.65 L556.75,1412.51 L558.77,1411.36 L560.80,1410.20 L562.83,1409.03 L564.85,1407.85 L566.88,1406.67 L568.90,1405.49 L570.93,1404.30 L572.96,1403.11 L574.98,1401.92 L577.01,1400.72 L579.03,1399.52 L581.06,1398.33 L583.09,1397.12 L585.11,1395.92 L587.14,1394.72 L589.17,1393.52 L591.19,1392.31 L593.22,1391.10 L595.24,1389.89 L597.27,1388.68 L599.30,1387.47 L601.32,1386.26 L603.35,1385.05 L605.37,1383.84 L607.40,1382.62 L609.43,1381.41 L611.45,1380.19 L613.48,1378.97 L615.50,1377.76 L617.53,1376.54 L619.56,1375.32 L621.58,1374.10 L623.61,1372.88 L625.63,1371.66 L627.66,1370.44 L629.69,1369.22 L631.71,1368.00 L633.74,1366.77 L635.77,1365.55 L637.79,1364.33 L639.82,1363.11 L641.84,1361.89 L643.87,1360.66 L645.90,1359.44 L647.92,1358.22 L649.95,1357.00 L651.97,1355.77 L654.00,1354.55 L656.03,1353.33 L658.05,1352.11 L660.08,1350.89 L662.10,1349.67 L664.13,1348.45 L666.16,1347.23 L668.18,1346.01 L670.21,1344.79 L672.23,1343.57 L674.26,1342.36 L676.29,1341.14 L678.31,1339.92 L680.34,1338.71 L682.37,1337.49 L684.39,1336.28 L686.42,1335.07 L688.44,1333.86 L690.47,1332.65 L692.50,1331.44 L694.52,1330.23 L696.55,1329.03 L698.57,1327.82 L700.60,1326.62 L702.63,1325.42 L704.65,1324.22 L706.68,1323.02 L708.70,1321.82 L710.73,1320.62 L712.76,1319.43 L714.78,1318.23 L716.81,1317.04 L718.83,1315.85 L720.86,1314.67 L722.89,1313.48 L724.91,1312.30 L726.94,1311.11 L728.97,1309.93 L730.99,1308.76 L733.02,1307.58 L735.04,1306.41 L737.07,1305.24 L739.10,1304.07 L741.12,1302.90 L743.15,1301.73 L745.17,1300.57 L747.20,1299.41 L749.23,1298.26 L751.25,1297.10 L753.28,1295.95 L755.30,1294.80 L757.33,1293.65 L759.36,1292.51 L761.38,1291.36 L763.41,1290.22 L765.43,1289.08 L767.46,1287.95 L769.49,1286.81 L771.51,1285.68 L773.54,1284.54 L775.57,1283.41 L777.59,1282.28 L779.62,1281.16 L781.64,1280.03 L783.67,1278.90 L785.70,1277.78 L787.72,1276.65 L789.75,1275.53 L791.77,1274.41 L793.80,1273.29 L795.83,1272.17 L797.85,1271.04 L799.88,1269.92 L801.90,1268.80 L803.93,1267.68 L805.96,1266.56 L807.98,1265.44 L810.01,1264.32 L812.03,1263.20 L814.06,1262.08 L816.09,1260.96 L818.11,1259.84 L820.14,1258.72 L822.17,1257.59 L824.19,1256.47 L826.22,1255.34 L828.24,1254.22 L830.27,1253.09 L832.30,1251.96 L834.32,1250.83 L836.35,1249.70 L838.37,1248.57 L840.40,1247.44 L842.43,1246.30 L844.45,1245.17 L846.48,1244.03 L848.50,1242.89 L850.53,1241.74 L852.56,1240.60 L854.58,1239.45 L856.61,1238.30 L858.63,1237.15 L860.66,1236.00 L862.69,1234.84 L864.71,1233.68 L866.74,1232.52 L868.77,1231.35 L870.79,1230.18 L872.82,1229.01 L874.84,1227.84 L876.87,1226.66 L878.90,1225.48 L880.92,1224.29 L882.95,1223.11 L884.97,1221.92 L887.00,1220.72 L889.03,1219.52 L891.05,1218.32 L893.08,1217.11 L895.10,1215.90 L897.13,1214.68 L899.16,1213.47 L901.18,1212.24 L903.21,1211.01 L905.23,1209.78 L907.26,1208.54 L909.29,1207.30 L911.31,1206.05 L913.34,1204.80 L915.37,1203.54 L917.39,1202.28 L919.42,1201.01 L921.44,1199.74 L923.47,1198.46 L925.50,1197.18 L927.52,1195.89 L929.55,1194.59 L931.57,1193.29 L933.60,1191.99 L935.63,1190.67 L937.65,1189.35 L939.68,1188.03 L941.70,1186.70 L943.73,1185.36 L945.76,1184.02 L947.78,1182.67 L949.81,1181.31 L951.83,1179.95 L953.86,1178.57 L955.89,1177.20 L957.91,1175.81 L959.94,1174.42 L961.97,1173.02 L963.99,1171.62 L966.02,1170.20 L968.04,1168.78 L970.07,1167.36 L972.10,1165.93 L974.12,1164.49 L976.15,1163.05 L978.17,1161.60 L980.20,1160.15 L982.23,1158.70 L984.25,1157.24 L986.28,1155.77 L988.30,1154.30 L990.33,1152.83 L992.36,1151.36 L994.38,1149.88 L996.41,1148.40 L998.43,1146.92 L1000.46,1145.44 L1002.49,1143.95 L1004.51,1142.47 L1006.54,1140.98 L1008.57,1139.49 L1010.59,1138.00 L1012.62,1136.52 L1014.64,1135.03 L1016.67,1133.54 L1018.70,1132.05 L1020.72,1130.56 L1022.75,1129.08 L1024.77,1127.59 L1026.80,1126.11 L1028.83,1124.63 L1030.85,1123.15 L1032.88,1121.67 L1034.90,1120.20 L1036.93,1118.73 L1038.96,1117.26 L1040.98,1115.80 L1043.01,1114.34 L1045.03,1112.88 L1047.06,1111.43 L1049.09,1109.98 L1051.11,1108.54 L1053.14,1107.11 L1055.17,1105.68 L1057.19,1104.25 L1059.22,1102.83 L1061.24,1101.42 L1063.27,1100.02 L1065.30,1098.62 L1067.32,1097.23 L1069.35,1095.84 L1071.37,1094.47 L1073.40,1093.10" fill="none" stroke="#f68a1e" stroke-width="2.1" stroke-linejoin="round" stroke-linecap="butt"/><line x1="456.2" y1="1073.5" x2="456.2" y2="1464" stroke="#000" stroke-width="2"/><line x1="455.2" y1="1463" x2="1086.2" y2="1463" stroke="#000" stroke-width="2"/><line x1="456.2" y1="1443.20" x2="459.2" y2="1443.20" stroke="#000" stroke-width="1"/><line x1="456.2" y1="1358.20" x2="459.2" y2="1358.20" stroke="#000" stroke-width="1"/><line x1="456.2" y1="1273.20" x2="459.2" y2="1273.20" stroke="#000" stroke-width="1"/><line x1="456.2" y1="1188.20" x2="459.2" y2="1188.20" stroke="#000" stroke-width="1"/><line x1="456.2" y1="1103.20" x2="459.2" y2="1103.20" stroke="#000" stroke-width="1"/><line x1="468.00" y1="1463" x2="468.00" y2="1460" stroke="#000" stroke-width="1"/><line x1="619.28" y1="1463" x2="619.28" y2="1460" stroke="#000" stroke-width="1"/><line x1="770.56" y1="1463" x2="770.56" y2="1460" stroke="#000" stroke-width="1"/><line x1="921.84" y1="1463" x2="921.84" y2="1460" stroke="#000" stroke-width="1"/><line x1="1073.12" y1="1463" x2="1073.12" y2="1460" stroke="#000" stroke-width="1"/><text x="450.23" y="1451.69" font-family='"Liberation Sans", sans-serif' font-size="25.8" text-anchor="end">0.0</text><text x="450.23" y="1366.69" font-family='"Liberation Sans", sans-serif' font-size="25.8" text-anchor="end">0.1</text><text x="450.23" y="1281.69" font-family='"Liberation Sans", sans-serif' font-size="25.8" text-anchor="end">0.2</text><text x="450.23" y="1196.69" font-family='"Liberation Sans", sans-serif' font-size="25.8" text-anchor="end">0.3</text><text x="450.23" y="1111.69" font-family='"Liberation Sans", sans-serif' font-size="25.8" text-anchor="end">0.4</text><text x="468.00" y="1491" font-family='"Liberation Sans", sans-serif' font-size="25.8" text-anchor="middle">0.0</text><text x="619.28" y="1491" font-family='"Liberation Sans", sans-serif' font-size="25.8" text-anchor="middle">0.2</text><text x="770.56" y="1491" font-family='"Liberation Sans", sans-serif' font-size="25.8" text-anchor="middle">0.4</text><text x="921.84" y="1491" font-family='"Liberation Sans", sans-serif' font-size="25.8" text-anchor="middle">0.6</text><text x="1073.12" y="1491" font-family='"Liberation Sans", sans-serif' font-size="25.8" text-anchor="middle">0.8</text><text x="490.70" y="1133.7" font-family='"Liberation Serif", serif' font-size="29.7" style="word-spacing:1.42px"><tspan>Ha = 1, K = 1, </tspan><tspan font-style="italic">R</tspan><tspan font-style="italic" font-size="22.27" dy="5.05">n</tspan><tspan dy="-5.05"> = 2, L = 0.05</tspan></text><rect x="490.6" y="1156.3" width="154.40" height="174.10" rx="6" fill="#fff" stroke="#5c5c5c" stroke-width="1.2"/><rect x="506.0" y="1177.7" width="12" height="12" fill="#000099" stroke="#00005a" stroke-width="1"/><text x="529.00" y="1190" font-family='"Liberation Serif", serif' font-size="30" style="word-spacing:2.80px"><tspan font-style="italic">S</tspan><tspan font-style="italic" font-size="22.50" dy="5.10">p</tspan><tspan dy="-5.10"> = 0.5</tspan></text><rect x="506.0" y="1216.8" width="12" height="12" fill="#990000" stroke="#5a0000" stroke-width="1"/><text x="529.00" y="1229.1" font-family='"Liberation Serif", serif' font-size="30" style="word-spacing:1.90px"><tspan font-style="italic">S</tspan><tspan font-style="italic" font-size="22.50" dy="5.10">p</tspan><tspan dy="-5.10"> = 1</tspan></text><rect x="506.0" y="1255.5" width="12" height="12" fill="#009900" stroke="#005a00" stroke-width="1"/><text x="529.00" y="1267.6" font-family='"Liberation Serif", serif' font-size="30" style="word-spacing:2.80px"><tspan font-style="italic">S</tspan><tspan font-style="italic" font-size="22.50" dy="5.10">p</tspan><tspan dy="-5.10"> = 1.5</tspan></text><rect x="506.0" y="1294.7" width="12" height="12" fill="#ff8000" stroke="#b35a00" stroke-width="1"/><text x="529.00" y="1306.2" font-family='"Liberation Serif", serif' font-size="30" style="word-spacing:2.90px"><tspan font-style="italic">S</tspan><tspan font-style="italic" font-size="22.50" dy="5.10">p</tspan><tspan dy="-5.10"> = 2</tspan></text><line x1="766.8" y1="1409.9" x2="666.64" y2="1293.93" stroke="#580204" stroke-width="2"/><path d="M652.2,1277.2 L672.46,1291.02 L666.64,1293.93 L662.92,1299.25 Z" fill="#580204"/><text x="771.45" y="1526.49" font-family='"Liberation Serif", serif' font-size="29.03" font-style="italic" text-anchor="middle">y</text><text transform="translate(404.40,1267.50) rotate(-90)" font-family='"Liberation Serif", serif' font-size="30.40" font-style="italic" text-anchor="middle">Be</text><text x="766.15" y="1584.64" font-family='"Liberation Serif", serif' font-size="40.79" font-weight="bold" text-anchor="middle">(e)</text></g></svg>
</body></html>
